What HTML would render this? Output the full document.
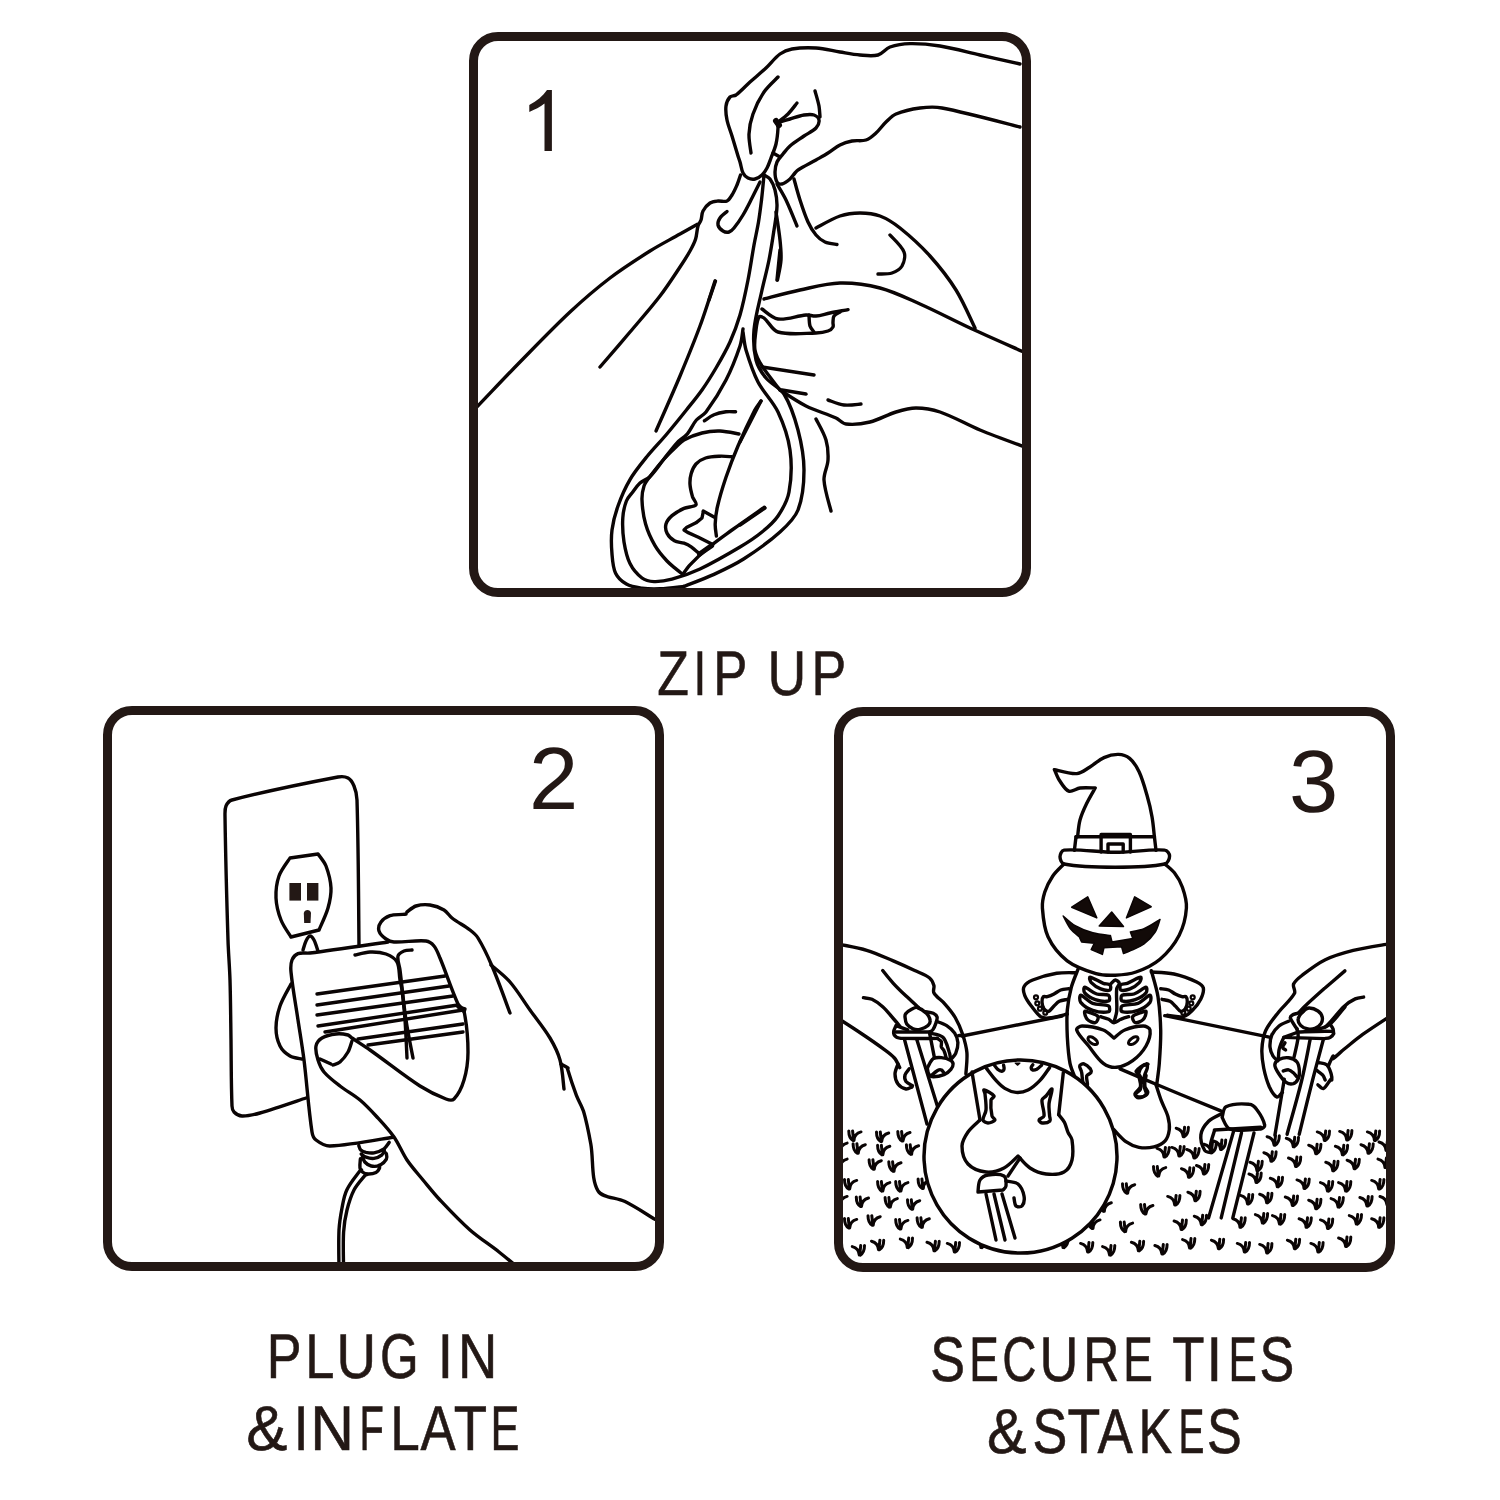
<!DOCTYPE html>
<html><head><meta charset="utf-8">
<style>
html,body{margin:0;padding:0;background:#fff;width:1500px;height:1500px;overflow:hidden}
svg{display:block;position:absolute;left:0;top:0}
text{font-family:"Liberation Sans",sans-serif;fill:#231815}
text.t{stroke:#231815;stroke-width:0.6}
svg{-webkit-font-smoothing:antialiased;text-rendering:geometricPrecision}
.b{fill:none;stroke:#231815;stroke-width:9}
g.l path{fill:none;stroke:#0a0404;stroke-linecap:round;stroke-linejoin:round}
</style></head>
<body>
<svg width="1500" height="1500" viewBox="0 0 1500 1500">
<defs>
<clipPath id="c1"><rect x="473.5" y="36.5" width="553" height="556" rx="24.5"/></clipPath>
<clipPath id="c2"><rect x="107.5" y="710.5" width="552" height="556" rx="24.5"/></clipPath>
<clipPath id="c3"><rect x="838.5" y="711.5" width="552" height="556" rx="24.5"/></clipPath>
</defs>
<g class="l">
<g clip-path="url(#c1)"><path d="M1020.0,64.0 C1013.3,62.5 993.3,58.0 980.0,55.0 C966.7,52.0 953.5,48.2 940.0,46.0 C930.1,44.4 920.0,43.4 910.0,43.6 C903.3,43.7 896.2,44.8 890.0,47.0 C885.6,48.6 882.4,53.8 878.0,55.0 C872.4,56.5 866.0,55.5 860.0,55.0 C853.3,54.5 846.7,53.1 840.0,52.0 C832.0,50.7 824.1,48.5 816.0,48.0 C808.1,47.5 799.8,47.7 792.0,49.0 C787.8,49.7 783.4,51.5 780.0,54.0 C774.8,57.8 770.8,63.5 766.0,68.0 C760.8,72.8 755.3,77.3 750.0,82.0 C745.3,86.3 741.0,91.2 736.0,95.0 C734.3,96.2 731.3,95.6 730.0,97.0 C728.0,99.2 726.4,102.8 726.0,106.0 C725.4,110.5 726.1,115.4 727.0,120.0 C728.1,125.4 730.4,130.7 732.0,136.0 C734.0,142.7 736.0,149.3 738.0,156.0 C738.6,158.0 739.4,160.0 740.0,162.0 C741.1,165.6 741.4,169.7 743.0,173.0 C744.0,175.0 746.0,177.0 748.0,178.0 C750.0,179.0 752.8,179.5 755.0,179.0 C757.5,178.5 760.1,176.8 762.0,175.0 C764.1,173.1 765.7,170.5 767.0,168.0 C768.7,164.8 769.7,161.4 771.0,158.0 C772.7,153.4 774.9,148.8 776.0,144.0 C777.2,138.8 777.7,133.3 778.0,128.0 C778.1,126.3 777.2,123.8 777.0,123.0" stroke-width="3.4"/>
<path d="M1020.0,127.0 C1007.0,123.8 968.2,113.0 942.0,108.0 C934.8,106.6 927.2,107.1 920.0,108.0 C911.9,109.1 903.5,110.9 896.0,114.0 C892.1,115.6 889.1,119.1 886.0,122.0 C882.4,125.4 879.7,129.7 876.0,133.0 C873.0,135.7 869.7,138.8 866.0,140.0 C861.7,141.4 856.6,140.1 852.0,141.0 C847.9,141.8 843.7,143.1 840.0,145.0 C835.7,147.1 832.1,150.5 828.0,153.0 C824.1,155.5 820.0,157.7 816.0,160.0 C810.0,163.4 803.8,166.4 798.0,170.0 C796.8,170.7 795.9,171.9 795.0,173.0 C793.3,174.9 792.0,177.3 790.0,179.0 C787.6,181.0 784.8,183.4 782.0,184.0 C780.4,184.4 777.8,183.4 777.0,182.0 C775.5,179.4 775.0,175.3 775.0,172.0 C775.0,168.7 775.7,165.0 777.0,162.0 C778.3,159.0 780.9,156.6 783.0,154.0 C785.2,151.3 787.3,148.3 790.0,146.0 C794.3,142.3 799.3,139.3 804.0,136.0 C808.0,133.3 812.9,131.3 816.0,128.0 C817.9,126.0 819.4,122.4 819.0,120.0 C818.7,118.0 816.1,115.7 814.0,115.0 C811.1,114.0 807.3,114.5 804.0,115.0 C799.3,115.8 794.7,117.6 790.0,119.0 C785.7,120.3 779.2,122.3 777.0,123.0" stroke-width="3.4"/>
<path d="M815.0,91.0 C815.7,93.5 818.0,100.9 819.0,106.0 C819.7,109.6 819.8,115.2 820.0,117.0" stroke-width="3.4"/>
<path d="M797.0,103.0 C795.5,104.8 791.3,110.7 788.0,114.0 C784.7,117.3 778.8,121.5 777.0,123.0" stroke-width="3.4"/>
<path d="M778.0,77.0 C775.7,79.5 767.8,86.4 764.0,92.0 C759.5,98.7 755.7,106.3 753.0,114.0 C750.7,120.3 749.3,127.3 749.0,134.0 C748.7,140.3 750.7,149.8 751.0,153.0" stroke-width="3.4"/>
<path d="M773.0,153.0 L780.0,157.0" stroke-width="3.4"/>
<path d="M776.0,121.0 L779.0,125.0" stroke-width="6.0"/>
<path d="M740.5,175.0 C739.9,176.7 738.4,181.8 737.0,185.0 C735.5,188.4 734.0,191.9 732.0,195.0 C730.6,197.2 729.2,200.1 727.0,201.0 C724.5,202.1 721.0,200.7 718.0,201.0 C715.3,201.3 712.2,201.5 710.0,203.0 C707.2,204.9 704.6,208.0 703.0,211.0 C701.6,213.6 702.0,217.1 701.0,220.0 C700.3,222.1 698.6,223.9 698.0,226.0 C696.8,230.2 696.9,234.8 695.6,239.0 C694.3,243.2 692.1,247.2 690.0,251.0 C686.9,256.5 683.5,261.8 680.0,267.0 C673.5,276.8 667.2,286.7 660.0,296.0 C650.5,308.4 640.1,320.1 630.0,332.0 C620.1,343.7 605.0,361.2 600.0,367.0" stroke-width="3.4"/>
<path d="M727.0,211.5 C725.8,212.6 721.7,215.4 720.0,218.0 C718.7,219.9 717.5,222.9 718.0,225.0 C718.5,227.2 720.9,229.7 723.0,231.0 C724.6,232.0 727.2,232.5 729.0,232.0 C730.9,231.5 732.7,229.6 734.0,228.0 C737.3,224.0 740.3,219.5 743.0,215.0 C746.3,209.5 749.1,203.7 752.0,198.0 C754.7,192.7 758.7,184.7 760.0,182.0" stroke-width="3.4"/>
<path d="M470.0,414.0 C470.7,413.3 472.7,411.4 474.0,410.0 C489.4,394.0 504.5,377.8 520.0,362.0 C536.5,345.2 552.8,328.1 570.0,312.0 C582.8,300.1 596.1,288.6 610.0,278.0 C622.8,268.3 636.4,259.6 650.0,251.0 C659.7,244.9 670.0,239.7 680.0,234.0 C685.7,230.8 694.2,226.0 697.0,224.4" stroke-width="3.4"/>
<path d="M715.0,281.0 C712.5,288.5 705.5,311.2 700.0,326.0 C693.8,342.8 686.9,359.4 680.0,376.0 C672.3,394.4 660.0,421.8 656.0,431.0" stroke-width="3.4"/>
<path d="M764.0,175.0 C763.6,179.2 762.5,191.7 761.5,200.0 C760.6,207.3 759.7,214.7 758.5,222.0 C757.2,229.7 755.4,237.3 754.0,245.0 C751.9,256.6 750.3,268.4 748.0,280.0 C745.7,291.7 743.3,303.5 740.0,315.0 C737.3,324.2 733.9,333.3 730.0,342.0 C725.9,350.9 721.0,359.5 716.0,368.0 C711.6,375.5 707.0,382.9 702.0,390.0 C697.1,396.9 691.7,403.4 686.4,410.0 C679.7,418.4 672.9,426.8 666.0,435.0 C659.7,442.4 652.9,449.3 646.8,456.8 C640.9,464.1 634.7,471.5 630.0,479.6 C625.1,487.9 621.2,496.9 618.0,506.0 C615.2,513.7 613.0,521.9 612.0,530.0 C611.0,537.9 611.3,546.1 612.0,554.0 C612.5,560.5 612.9,567.6 615.6,573.2 C617.7,577.6 622.1,581.6 626.4,584.0 C630.9,586.6 636.7,587.4 642.0,588.2 C647.9,589.0 654.0,589.1 660.0,588.8 C668.0,588.5 680.0,586.8 684.0,586.4" stroke-width="3.4"/>
<path d="M764.0,175.0 C765.0,175.7 768.6,177.1 770.0,179.0 C772.3,182.1 774.0,186.1 775.0,190.0 C776.3,195.1 777.1,200.7 777.0,206.0 C776.8,214.0 775.2,222.0 774.0,230.0 C772.5,240.0 771.0,250.1 769.0,260.0 C767.0,270.1 764.2,280.0 762.0,290.0 C759.2,303.3 755.2,316.6 754.0,330.0 C753.2,339.9 753.6,350.5 756.0,360.0 C757.6,366.5 761.7,372.8 766.0,378.0 C771.0,384.1 779.9,387.3 784.0,394.0 C790.6,404.7 794.7,417.6 798.0,430.0 C801.4,443.0 804.0,456.7 804.0,470.0 C804.0,483.3 802.7,497.9 798.0,510.0 C794.7,518.5 787.0,525.7 780.0,532.0 C769.0,542.0 756.5,550.7 744.0,558.8 C734.5,564.9 724.2,569.7 714.0,574.4 C704.2,578.9 689.0,584.4 684.0,586.4" stroke-width="3.4"/>
<path d="M743.0,329.0 C742.5,331.8 741.8,340.6 740.0,346.0 C736.1,357.6 731.6,369.1 726.0,380.0 C720.3,391.1 713.4,402.0 706.0,412.0 C703.5,415.3 699.1,416.9 696.4,420.0 C692.9,424.1 690.9,429.7 687.4,433.8 C684.5,437.3 680.1,439.5 677.0,442.8 C672.3,447.9 668.3,453.6 664.0,459.0 C659.2,465.0 655.0,471.6 649.6,477.0 C647.0,479.6 642.8,480.5 640.0,483.0 C637.2,485.5 635.1,488.9 632.8,492.0 C630.6,494.9 627.7,497.6 626.4,501.0 C624.4,506.3 623.1,512.3 622.8,518.0 C622.3,525.9 622.8,534.1 624.0,542.0 C625.2,549.3 626.7,557.1 630.0,563.6 C632.7,569.1 637.2,574.4 642.0,578.0 C645.2,580.4 649.9,581.4 654.0,581.6 C659.9,581.8 666.2,580.8 672.0,579.2 C681.5,576.6 691.0,573.2 700.0,569.0 C713.7,562.5 726.9,554.8 740.0,547.0 C747.6,542.5 755.2,537.6 762.0,532.0 C767.8,527.3 773.8,522.2 778.0,516.0 C782.8,508.8 787.5,500.5 789.0,492.0 C791.5,478.5 791.9,463.7 790.0,450.0 C788.2,437.0 783.6,423.9 778.0,412.0 C772.9,401.2 763.5,392.6 758.0,382.0 C752.8,371.9 749.3,360.9 746.0,350.0 C744.3,344.2 743.5,335.0 743.0,332.0" stroke-width="3.4"/>
<path d="M739.0,434.0 C735.8,433.5 726.4,431.2 720.0,431.0 C714.0,430.8 707.8,431.5 702.0,433.0 C695.8,434.5 689.6,437.0 684.0,440.0 C680.9,441.7 678.6,444.6 676.0,447.0 C671.9,450.9 667.7,454.8 664.0,459.0 C658.9,464.8 654.2,470.8 649.6,477.0 C647.5,479.8 645.1,482.7 644.0,486.0 C642.6,490.4 641.8,495.3 642.0,500.0 C642.3,508.0 643.4,516.3 645.6,524.0 C647.7,531.5 651.1,538.9 655.0,545.6 C658.2,551.2 662.6,556.2 667.0,561.0 C669.9,564.2 673.5,566.8 676.8,569.6 C678.8,571.3 681.8,573.6 682.8,574.4" stroke-width="3.4"/>
<path d="M704.4,420.8 C706.0,419.8 710.6,416.2 714.0,414.8 C717.8,413.2 721.9,412.4 726.0,411.8 C729.1,411.4 734.0,411.8 735.6,411.8" stroke-width="3.4"/>
<path d="M732.0,456.8 C730.0,456.7 724.0,456.0 720.0,456.2 C715.2,456.4 710.1,456.5 705.6,458.0 C702.1,459.1 698.5,461.3 696.0,464.0 C693.7,466.5 692.2,470.2 691.2,473.6 C690.2,477.0 689.8,480.8 690.0,484.4 C690.2,488.4 691.3,492.5 692.4,496.4 C693.3,499.3 697.2,503.1 696.0,504.8 C694.4,507.1 687.8,506.7 684.0,508.4 C679.8,510.3 675.5,512.6 672.0,515.6 C669.5,517.8 666.8,520.9 666.0,524.0 C665.2,526.9 665.8,530.9 667.2,533.6 C668.6,536.5 671.6,539.2 674.4,540.8 C677.2,542.4 680.9,542.1 684.0,543.2 C686.5,544.1 689.0,545.3 691.2,546.8 C694.2,548.9 698.2,552.8 699.6,554.0" stroke-width="3.4"/>
<path d="M703.2,511.0 L714.0,517.0" stroke-width="3.4"/>
<path d="M703.2,512.0 L702.0,518.0 L696.0,522.8 L686.4,527.6 L684.0,530.0 L687.6,532.4 L698.4,537.2 L712.8,544.4" stroke-width="3.4"/>
<path d="M761.0,401.0 C760.0,402.5 756.5,406.8 754.8,410.0 C748.8,421.8 743.2,433.8 738.0,446.0 C733.6,456.2 729.6,466.7 726.0,477.2 C722.8,486.7 719.8,496.3 717.6,506.0 C716.2,511.9 715.4,518.0 715.2,524.0 C715.0,528.0 716.2,534.0 716.4,536.0" stroke-width="3.4"/>
<path d="M764.4,507.2 C759.0,511.0 742.7,522.3 732.0,530.0 C723.9,535.9 715.7,541.6 708.0,548.0 C701.7,553.2 695.6,558.9 690.0,564.8 C687.2,567.7 684.0,572.8 682.8,574.4" stroke-width="3.4"/>
<path d="M699.6,554.0 L711.6,545.6" stroke-width="5.0"/>
<path d="M780.0,250.0 L777.0,280.0" stroke-width="3.4"/>
<path d="M761.0,401.0 L740.0,442.0" stroke-width="3.4"/>
<path d="M765.0,508.0 L740.0,525.0" stroke-width="3.4"/>
<path d="M776.0,212.0 C776.7,216.7 779.0,230.6 780.0,240.0 C780.7,246.6 781.4,253.4 781.0,260.0 C780.6,266.7 778.1,276.7 777.5,280.0" stroke-width="3.4"/>
<path d="M777.0,184.0 C778.5,186.7 783.4,194.5 786.0,200.0 C790.0,208.5 795.2,221.7 797.0,226.0" stroke-width="3.4"/>
<path d="M794.0,179.0 C795.0,182.5 797.7,193.1 800.0,200.0 C802.4,207.4 804.8,214.9 808.0,222.0 C810.1,226.6 812.8,231.2 816.0,235.0 C818.4,237.9 821.6,240.5 825.0,242.0 C828.6,243.6 835.0,244.1 837.0,244.5" stroke-width="3.4"/>
<path d="M715.5,281.0 L709.0,300.0" stroke-width="3.4"/>
<path d="M816.0,228.0 C820.0,226.0 831.6,218.9 840.0,216.0 C846.3,213.9 853.3,213.0 860.0,213.0 C866.7,213.0 873.8,213.7 880.0,216.0 C887.1,218.7 894.0,223.2 900.0,228.0 C910.6,236.5 920.9,245.9 930.0,256.0 C939.5,266.6 948.5,278.0 956.0,290.0 C963.5,302.0 971.8,321.7 975.0,328.0" stroke-width="3.4"/>
<path d="M890.0,235.0 C892.3,237.8 901.6,245.7 904.0,252.0 C905.6,256.0 904.1,262.2 902.0,266.0 C900.1,269.2 895.7,271.8 892.0,273.0 C887.7,274.4 880.3,273.8 878.0,274.0" stroke-width="3.4"/>
<path d="M764.0,299.0 C770.0,297.5 787.9,292.5 800.0,290.0 C813.2,287.2 826.6,283.3 840.0,283.0 C853.3,282.7 867.1,284.6 880.0,288.0 C893.8,291.6 906.9,298.2 920.0,304.0 C936.9,311.5 953.2,320.2 970.0,328.0 C988.6,336.6 1016.7,348.8 1026.0,353.0" stroke-width="3.4"/>
<path d="M780.0,390.0 C784.3,392.7 796.9,401.5 806.0,406.0 C815.6,410.8 826.2,413.6 836.0,418.0 C839.5,419.6 842.3,423.6 846.0,424.0 C853.6,424.9 862.3,423.9 870.0,422.0 C878.9,419.9 887.1,414.7 896.0,412.0 C902.5,410.0 909.3,408.0 916.0,408.0 C924.0,408.0 932.4,409.4 940.0,412.0 C953.7,416.7 966.5,424.4 980.0,430.0 C996.5,436.8 1021.7,445.8 1030.0,449.0" stroke-width="3.4"/>
<path d="M762.0,309.0 C764.7,310.7 772.1,318.2 778.0,319.0 C786.8,320.2 796.7,315.7 806.0,315.0 C809.3,314.7 812.7,316.3 816.0,316.0 C820.7,315.6 825.3,313.9 830.0,313.0 C836.0,311.8 845.0,310.2 848.0,309.6" stroke-width="3.4"/>
<path d="M840.0,312.0 C839.0,312.7 835.3,314.2 834.0,316.0 C832.9,317.5 833.2,320.0 833.0,322.0 C832.8,323.7 833.7,325.7 833.0,327.0 C832.1,328.7 830.0,330.3 828.0,331.0 C824.3,332.3 820.0,332.9 816.0,333.0 C803.4,333.3 789.4,335.3 778.0,332.0 C772.1,330.3 769.0,322.0 764.0,318.0 C762.7,317.0 759.7,315.9 759.0,317.0 C757.1,319.9 756.5,325.6 756.0,330.0 C755.2,336.6 753.9,343.6 755.0,350.0 C755.9,355.6 758.9,361.1 762.0,366.0 C767.3,374.4 777.0,386.0 780.0,390.0" stroke-width="3.4"/>
<path d="M809.0,315.0 C809.2,316.8 809.0,322.6 810.0,326.0 C810.7,328.2 813.3,331.0 814.0,332.0" stroke-width="3.4"/>
<path d="M762.0,367.0 L814.0,375.0" stroke-width="3.4"/>
<path d="M782.0,390.0 L806.0,394.0" stroke-width="3.4"/>
<path d="M828.0,400.0 C830.7,400.8 838.5,404.3 844.0,405.0 C849.5,405.7 858.2,404.2 861.0,404.0" stroke-width="3.4"/>
<path d="M816.0,419.0 C817.7,422.5 823.9,432.7 826.0,440.0 C827.9,446.3 828.3,453.4 828.0,460.0 C827.7,466.7 823.6,473.4 824.0,480.0 C824.6,490.4 829.8,505.8 831.0,511.0" stroke-width="3.4"/></g>
<g clip-path="url(#c2)"><path d="M306.0,1098.0 C298.3,1100.5 275.5,1108.6 260.0,1113.0 C254.2,1114.6 247.8,1116.2 242.0,1116.0 C239.1,1115.9 236.0,1114.0 234.0,1112.0 C232.6,1110.6 232.1,1108.1 232.0,1106.0 C231.1,1084.1 231.3,1062.0 231.0,1040.0 C230.7,1020.0 230.6,1000.0 230.0,980.0 C229.6,966.7 228.4,953.3 228.0,940.0 C226.7,898.7 225.6,857.3 225.0,816.0 C225.0,812.7 224.7,808.9 226.0,806.0 C227.1,803.6 229.3,800.7 232.0,800.0 C266.6,791.0 302.6,783.7 338.0,777.0 C341.3,776.4 345.3,776.5 348.0,778.0 C350.7,779.5 352.8,783.0 354.0,786.0 C355.8,790.3 356.9,795.2 357.0,800.0 C358.5,848.6 358.7,921.7 359.0,946.0" stroke-width="3.4"/>
<path d="M290.0,858.0 L318.0,854.0 C319.3,856.0 324.3,861.6 326.0,866.0 C328.6,872.9 330.6,880.6 331.0,888.0 C331.3,894.6 329.8,901.6 328.0,908.0 C325.8,915.6 320.5,926.3 319.0,930.0 L291.0,937.0 C289.3,934.2 283.3,926.1 281.0,920.0 C278.3,913.1 276.3,905.4 276.0,898.0 C275.7,890.7 276.6,882.8 279.0,876.0 C281.3,869.5 288.2,861.0 290.0,858.0Z" stroke-width="3.4"/>
<path d="M289.4,883 h11.6 v17.6 h-11.6 Z" style="fill:#231815" stroke-width="0.0"/>
<path d="M307,883 h11.4 v17.6 h-11.4 Z" style="fill:#231815" stroke-width="0.0"/>
<path d="M303.8,913 C304.5,909 310.5,909 311,913 L310.5,923 L304.2,923 Z" style="fill:#231815" stroke-width="0.0"/>
<path d="M303.0,950.0 C303.5,948.5 304.6,943.8 306.0,941.0 C306.9,939.1 308.6,936.2 310.0,936.0 C311.3,935.8 313.1,938.4 314.0,940.0 C315.8,943.4 317.3,949.2 318.0,951.0" stroke-width="3.4"/>
<path d="M406.0,914.0 C405.5,914.1 404.0,914.3 403.0,914.4 C398.7,914.8 394.0,914.2 390.0,915.6 C386.6,916.8 383.0,919.2 381.0,922.0 C379.3,924.3 378.2,928.4 379.0,931.0 C379.9,934.0 383.2,937.0 386.0,939.0 C388.2,940.6 391.2,941.9 394.0,942.0 C404.5,942.5 415.7,940.0 426.0,941.0 C429.0,941.3 432.1,943.7 434.0,946.0 C436.7,949.3 438.3,953.9 440.0,958.0 C446.3,973.2 451.3,989.1 458.0,1004.0 C459.3,1006.8 463.4,1008.1 464.0,1011.0 C466.7,1024.1 468.0,1038.4 468.0,1052.0 C468.0,1061.4 466.7,1071.1 464.0,1080.0 C462.0,1086.8 458.4,1094.4 454.0,1099.0 C452.4,1100.7 448.4,1099.9 446.0,1099.0 C437.1,1095.6 428.1,1091.2 420.0,1086.0 C402.8,1074.9 386.8,1061.8 370.0,1050.0 C364.1,1045.8 358.0,1042.1 352.0,1038.0 C350.6,1037.1 349.6,1035.4 348.0,1035.0 C344.2,1034.1 339.9,1033.5 336.0,1034.0 C331.3,1034.5 326.0,1035.6 322.0,1038.0 C319.3,1039.6 316.6,1043.0 316.0,1046.0 C315.2,1050.3 316.6,1055.6 318.0,1060.0 C319.3,1064.2 321.2,1068.6 324.0,1072.0 C328.5,1077.3 334.4,1081.7 340.0,1086.0 C346.4,1091.0 353.8,1094.8 360.0,1100.0 C366.1,1105.1 371.6,1111.1 377.0,1117.0 C382.9,1123.4 389.0,1129.9 394.0,1137.0 C399.0,1144.2 402.1,1152.7 407.0,1160.0 C411.8,1167.1 417.6,1173.4 423.0,1180.0 C428.6,1186.7 434.0,1193.6 440.0,1200.0 C449.7,1210.3 459.4,1220.7 470.0,1230.0 C479.1,1238.0 489.5,1244.5 499.0,1252.0 C506.3,1257.8 513.5,1263.8 520.6,1270.0 C522.5,1271.6 525.1,1274.5 526.0,1275.4" stroke-width="3.4"/>
<path d="M388.0,942.0 C375.0,943.8 336.0,949.6 310.0,953.0 C306.0,953.5 301.5,952.3 298.0,953.6 C295.5,954.6 293.0,957.4 292.0,960.0 C290.7,963.5 290.6,968.0 291.0,972.0 C292.6,988.0 295.6,1004.0 298.0,1020.0 C300.0,1033.3 302.3,1046.6 304.0,1060.0 C307.0,1084.0 308.4,1108.3 312.0,1132.0 C312.4,1134.9 313.8,1138.3 316.0,1140.0 C319.8,1142.9 325.0,1146.2 330.0,1146.0 C350.7,1145.2 382.5,1138.7 393.0,1137.2" stroke-width="3.4"/>
<path d="M291.0,984.0 C289.2,987.7 282.6,998.3 280.0,1006.0 C277.6,1013.0 276.0,1020.7 276.0,1028.0 C276.0,1034.0 277.4,1040.7 280.0,1046.0 C282.0,1050.1 286.1,1053.7 290.0,1056.0 C293.4,1058.0 300.0,1058.5 302.0,1059.0" stroke-width="3.4"/>
<path d="M317.0,994.0 L445.0,976.0" stroke-width="3.4"/>
<path d="M317.0,1005.0 L449.0,986.0" stroke-width="3.4"/>
<path d="M317.0,1015.0 L453.0,996.0" stroke-width="3.4"/>
<path d="M318.0,1026.0 L458.0,1005.0" stroke-width="3.4"/>
<path d="M325.0,1032.0 L463.0,1010.0" stroke-width="3.4"/>
<path d="M358.0,1039.0 L463.0,1024.0" stroke-width="3.4"/>
<path d="M368.0,1045.0 L463.0,1032.0" stroke-width="3.4"/>
<path d="M458.0,1007.0 L465.0,1009.0 L464.0,1012.0" stroke-width="3.4"/>
<path d="M355.0,955.0 C357.5,954.5 365.0,952.2 370.0,952.0 C375.3,951.8 381.1,952.2 386.0,954.0 C390.1,955.5 395.0,958.3 397.0,962.0 C399.7,967.0 398.9,974.0 400.0,980.0 C400.6,983.3 401.6,986.6 402.0,990.0 C403.2,1000.0 404.3,1010.0 405.0,1020.0 C405.9,1032.6 406.7,1051.7 407.0,1058.0" stroke-width="3.4"/>
<path d="M412.0,950.0 C410.7,950.2 406.4,950.0 404.0,951.0 C401.7,952.0 398.5,953.7 398.0,956.0 C397.1,960.1 399.4,965.3 400.0,970.0 C402.1,986.7 403.5,1003.4 406.0,1020.0 C407.9,1032.7 411.8,1051.7 413.0,1058.0" stroke-width="3.4"/>
<path d="M407.0,912.0 C408.5,911.0 412.7,907.0 416.0,906.0 C420.3,904.7 425.5,904.4 430.0,905.0 C434.8,905.7 439.8,907.5 444.0,910.0 C447.2,911.9 449.0,915.7 452.0,918.0 C457.7,922.4 464.3,925.6 470.0,930.0 C473.0,932.3 476.1,934.8 478.0,938.0 C483.4,946.8 487.9,956.4 492.0,966.0 C498.6,981.4 507.0,1005.2 510.0,1013.0" stroke-width="3.4"/>
<path d="M491.0,965.0 C494.2,967.8 504.5,975.6 510.0,982.0 C517.5,990.6 523.3,1000.7 530.0,1010.0 C536.7,1019.3 544.1,1028.2 550.0,1038.0 C554.1,1044.9 557.9,1052.3 560.0,1060.0 C562.6,1069.3 563.3,1084.2 564.0,1089.0" stroke-width="3.4"/>
<path d="M561.0,1064.0 C562.2,1064.7 566.0,1066.7 568.0,1068.0 C568.2,1068.1 567.3,1068.2 567.4,1068.4 C570.1,1077.3 573.1,1086.5 576.4,1095.4 C578.5,1100.9 581.9,1106.0 583.6,1111.6 C586.7,1122.1 588.8,1133.1 590.8,1144.0 C593.6,1159.5 590.9,1178.9 598.0,1190.8 C602.3,1198.1 616.3,1197.3 625.0,1201.6 C635.5,1206.9 645.4,1213.5 655.6,1219.6 C660.4,1222.5 667.6,1227.1 670.0,1228.6" stroke-width="3.4"/>
<path d="M352.0,1041.0 C351.3,1042.8 349.9,1048.7 348.0,1052.0 C345.9,1055.7 343.1,1059.3 340.0,1062.0 C338.1,1063.6 334.2,1064.5 333.0,1065.0" stroke-width="3.4"/>
<path d="M331.0,1064.0 L320.0,1059.0" stroke-width="3.4"/>
<path d="M358.8,1145.6 C359.1,1146.3 359.7,1149.0 360.8,1150.0 C362.1,1151.2 364.2,1152.0 366.0,1152.4 C368.6,1152.9 371.4,1153.3 374.0,1152.8 C377.4,1152.1 381.1,1150.8 384.0,1148.8 C386.2,1147.3 388.3,1143.5 389.2,1142.4" stroke-width="3.4"/>
<path d="M361.2,1154.0 C362.0,1154.5 364.2,1156.6 366.0,1157.2 C368.5,1158.1 371.4,1158.8 374.0,1158.4 C376.8,1158.0 379.8,1156.5 382.0,1154.8 C383.3,1153.7 384.0,1150.8 384.4,1150.0" stroke-width="3.4"/>
<path d="M362.4,1156.0 C362.8,1157.0 363.4,1160.5 364.8,1162.0 C366.4,1163.8 368.9,1165.5 371.2,1166.0 C373.9,1166.6 377.5,1166.3 380.0,1165.2 C382.5,1164.1 385.1,1161.5 386.4,1159.2 C387.2,1157.8 386.8,1155.6 386.4,1154.0 C386.2,1153.3 385.1,1152.7 384.8,1152.4" stroke-width="3.4"/>
<path d="M360.4,1158.8 C360.3,1160.3 359.6,1165.1 360.0,1168.0 C360.2,1169.5 361.2,1171.1 362.4,1172.0 C363.9,1173.1 366.1,1173.9 368.0,1174.0 C370.6,1174.1 373.7,1173.6 376.0,1172.4 C377.6,1171.6 378.9,1169.6 379.6,1168.0 C380.0,1167.2 379.3,1165.7 379.2,1165.2" stroke-width="3.4"/>
<path d="M361.6,1170.0 C361.3,1170.1 360.4,1170.3 360.0,1170.8 C355.4,1177.0 350.1,1183.1 346.8,1190.0 C344.1,1195.5 343.2,1201.9 342.0,1208.0 C340.6,1215.3 339.4,1222.6 339.0,1230.0 C338.4,1243.3 339.0,1263.3 339.0,1270.0" stroke-width="3.4"/>
<path d="M367.2,1174.4 C366.9,1174.5 365.7,1174.7 365.2,1175.2 C361.3,1179.9 356.8,1184.6 354.0,1190.0 C350.8,1196.2 348.7,1203.2 347.0,1210.0 C345.2,1217.2 344.0,1224.6 343.6,1232.0 C342.9,1244.6 343.6,1263.7 343.6,1270.0" stroke-width="3.4"/></g>
<g clip-path="url(#c3)"><path d="M852.3,1246.6 Q858.8,1248.1 859.3,1255.1 M860.7,1245.6 L859.7,1255.1 M864.5,1245.6 Q864.5,1252.6 860.3,1255.1 M871.5,1241.2 Q878.0,1242.7 878.5,1249.7 M879.9,1240.2 L878.9,1249.7 M883.7,1240.2 Q883.7,1247.2 879.5,1249.7 M900.3,1239.1 Q906.8,1240.6 907.3,1247.6 M908.7,1238.1 L907.7,1247.6 M912.5,1238.1 Q912.5,1245.1 908.3,1247.6 M927.0,1242.3 Q933.5,1243.8 934.0,1250.8 M935.4,1241.3 L934.4,1250.8 M939.2,1241.3 Q939.2,1248.3 935.0,1250.8 M947.3,1243.4 Q953.8,1244.9 954.3,1251.9 M955.7,1242.4 L954.7,1251.9 M959.5,1242.4 Q959.5,1249.4 955.3,1251.9 M973.9,1239.1 Q980.4,1240.6 980.9,1247.6 M982.3,1238.1 L981.3,1247.6 M986.1,1238.1 Q986.1,1245.1 981.9,1247.6 M1056.0,1239.1 Q1062.5,1240.6 1063.0,1247.6 M1064.4,1238.1 L1063.4,1247.6 M1068.2,1238.1 Q1068.2,1245.1 1064.0,1247.6 M1080.6,1243.4 Q1087.1,1244.9 1087.6,1251.9 M1089.0,1242.4 L1088.0,1251.9 M1092.8,1242.4 Q1092.8,1249.4 1088.6,1251.9 M1176.2,1128.2 Q1182.7,1129.7 1183.2,1136.7 M1184.6,1127.2 L1183.6,1136.7 M1188.4,1127.2 Q1188.4,1134.2 1184.2,1136.7 M1157.0,1148.4 Q1163.5,1149.9 1164.0,1156.9 M1165.4,1147.4 L1164.4,1156.9 M1169.2,1147.4 Q1169.2,1154.4 1165.0,1156.9 M1171.9,1147.4 Q1178.4,1148.9 1178.9,1155.9 M1180.3,1146.4 L1179.3,1155.9 M1184.1,1146.4 Q1184.1,1153.4 1179.9,1155.9 M1186.9,1149.5 Q1193.4,1151.0 1193.9,1158.0 M1195.3,1148.5 L1194.3,1158.0 M1199.1,1148.5 Q1199.1,1155.5 1194.9,1158.0 M1204.0,1144.2 Q1210.5,1145.7 1211.0,1152.7 M1212.4,1143.2 L1211.4,1152.7 M1216.2,1143.2 Q1216.2,1150.2 1212.0,1152.7 M1213.5,1141.0 Q1220.0,1142.5 1220.5,1149.5 M1221.9,1140.0 L1220.9,1149.5 M1225.7,1140.0 Q1225.7,1147.0 1221.5,1149.5 M1181.5,1168.7 Q1188.0,1170.2 1188.5,1177.2 M1189.9,1167.7 L1188.9,1177.2 M1193.7,1167.7 Q1193.7,1174.7 1189.5,1177.2 M1196.5,1165.5 Q1203.0,1167.0 1203.5,1174.0 M1204.9,1164.5 L1203.9,1174.0 M1208.7,1164.5 Q1208.7,1171.5 1204.5,1174.0 M1187.9,1192.2 Q1194.4,1193.7 1194.9,1200.7 M1196.3,1191.2 L1195.3,1200.7 M1200.1,1191.2 Q1200.1,1198.2 1195.9,1200.7 M1167.7,1196.4 Q1174.2,1197.9 1174.7,1204.9 M1176.1,1195.4 L1175.1,1204.9 M1179.9,1195.4 Q1179.9,1202.4 1175.7,1204.9 M1174.1,1221.0 Q1180.6,1222.5 1181.1,1229.5 M1182.5,1220.0 L1181.5,1229.5 M1186.3,1220.0 Q1186.3,1227.0 1182.1,1229.5 M1194.3,1216.2 Q1200.8,1217.7 1201.3,1224.7 M1202.7,1215.2 L1201.7,1224.7 M1206.5,1215.2 Q1206.5,1222.2 1202.3,1224.7 M1102.6,1246.6 Q1109.1,1248.1 1109.6,1255.1 M1111.0,1245.6 L1110.0,1255.1 M1114.8,1245.6 Q1114.8,1252.6 1110.6,1255.1 M1131.4,1242.3 Q1137.9,1243.8 1138.4,1250.8 M1139.8,1241.3 L1138.8,1250.8 M1143.6,1241.3 Q1143.6,1248.3 1139.4,1250.8 M1154.9,1245.5 Q1161.4,1247.0 1161.9,1254.0 M1163.3,1244.5 L1162.3,1254.0 M1167.1,1244.5 Q1167.1,1251.5 1162.9,1254.0 M1182.6,1239.6 Q1189.1,1241.1 1189.6,1248.1 M1191.0,1238.6 L1190.0,1248.1 M1194.8,1238.6 Q1194.8,1245.6 1190.6,1248.1 M1211.4,1240.2 Q1217.9,1241.7 1218.4,1248.7 M1219.8,1239.2 L1218.8,1248.7 M1223.6,1239.2 Q1223.6,1246.2 1219.4,1248.7 M1267.1,1136.7 Q1273.6,1138.2 1274.1,1145.2 M1275.5,1135.7 L1274.5,1145.2 M1279.3,1135.7 Q1279.3,1142.7 1275.1,1145.2 M1286.3,1138.3 Q1292.8,1139.8 1293.3,1146.8 M1294.7,1137.3 L1293.7,1146.8 M1298.5,1137.3 Q1298.5,1144.3 1294.3,1146.8 M1317.3,1131.9 Q1323.8,1133.4 1324.3,1140.4 M1325.7,1130.9 L1324.7,1140.4 M1329.5,1130.9 Q1329.5,1137.9 1325.3,1140.4 M1339.7,1131.4 Q1346.2,1132.9 1346.7,1139.9 M1348.1,1130.4 L1347.1,1139.9 M1351.9,1130.4 Q1351.9,1137.4 1347.7,1139.9 M1367.4,1131.9 Q1373.9,1133.4 1374.4,1140.4 M1375.8,1130.9 L1374.8,1140.4 M1379.6,1130.9 Q1379.6,1137.9 1375.4,1140.4 M1379.0,1142.0 Q1385.5,1143.5 1386.0,1150.5 M1387.4,1141.0 L1386.4,1150.5 M1391.2,1141.0 Q1391.2,1148.0 1387.0,1150.5 M1263.9,1152.7 Q1270.4,1154.2 1270.9,1161.2 M1272.3,1151.7 L1271.3,1161.2 M1276.1,1151.7 Q1276.1,1158.7 1271.9,1161.2 M1288.5,1158.0 Q1295.0,1159.5 1295.5,1166.5 M1296.9,1157.0 L1295.9,1166.5 M1300.7,1157.0 Q1300.7,1164.0 1296.5,1166.5 M1308.7,1145.2 Q1315.2,1146.7 1315.7,1153.7 M1317.1,1144.2 L1316.1,1153.7 M1320.9,1144.2 Q1320.9,1151.2 1316.7,1153.7 M1335.4,1146.3 Q1341.9,1147.8 1342.4,1154.8 M1343.8,1145.3 L1342.8,1154.8 M1347.6,1145.3 Q1347.6,1152.3 1343.4,1154.8 M1361.0,1144.7 Q1367.5,1146.2 1368.0,1153.2 M1369.4,1143.7 L1368.4,1153.2 M1373.2,1143.7 Q1373.2,1150.7 1369.0,1153.2 M1378.0,1159.1 Q1384.5,1160.6 1385.0,1167.6 M1386.4,1158.1 L1385.4,1167.6 M1390.2,1158.1 Q1390.2,1165.1 1386.0,1167.6 M1250.0,1162.3 Q1256.5,1163.8 1257.0,1170.8 M1258.4,1161.3 L1257.4,1170.8 M1262.2,1161.3 Q1262.2,1168.3 1258.0,1170.8 M1325.8,1162.3 Q1332.3,1163.8 1332.8,1170.8 M1334.2,1161.3 L1333.2,1170.8 M1338.0,1161.3 Q1338.0,1168.3 1333.8,1170.8 M1347.1,1160.2 Q1353.6,1161.7 1354.1,1168.7 M1355.5,1159.2 L1354.5,1168.7 M1359.3,1159.2 Q1359.3,1166.2 1355.1,1168.7 M1249.0,1174.0 Q1255.5,1175.5 1256.0,1182.5 M1257.4,1173.0 L1256.4,1182.5 M1261.2,1173.0 Q1261.2,1180.0 1257.0,1182.5 M1270.3,1178.3 Q1276.8,1179.8 1277.3,1186.8 M1278.7,1177.3 L1277.7,1186.8 M1282.5,1177.3 Q1282.5,1184.3 1278.3,1186.8 M1297.0,1179.9 Q1303.5,1181.4 1304.0,1188.4 M1305.4,1178.9 L1304.4,1188.4 M1309.2,1178.9 Q1309.2,1185.9 1305.0,1188.4 M1320.5,1182.6 Q1327.0,1184.1 1327.5,1191.1 M1328.9,1181.6 L1327.9,1191.1 M1332.7,1181.6 Q1332.7,1188.6 1328.5,1191.1 M1338.6,1182.6 Q1345.1,1184.1 1345.6,1191.1 M1347.0,1181.6 L1346.0,1191.1 M1350.8,1181.6 Q1350.8,1188.6 1346.6,1191.1 M1371.7,1180.4 Q1378.2,1181.9 1378.7,1188.9 M1380.1,1179.4 L1379.1,1188.9 M1383.9,1179.4 Q1383.9,1186.4 1379.7,1188.9 M1240.5,1195.4 Q1247.0,1196.9 1247.5,1203.9 M1248.9,1194.4 L1247.9,1203.9 M1252.7,1194.4 Q1252.7,1201.4 1248.5,1203.9 M1259.7,1194.3 Q1266.2,1195.8 1266.7,1202.8 M1268.1,1193.3 L1267.1,1202.8 M1271.9,1193.3 Q1271.9,1200.3 1267.7,1202.8 M1285.3,1197.0 Q1291.8,1198.5 1292.3,1205.5 M1293.7,1196.0 L1292.7,1205.5 M1297.5,1196.0 Q1297.5,1203.0 1293.3,1205.5 M1308.7,1200.2 Q1315.2,1201.7 1315.7,1208.7 M1317.1,1199.2 L1316.1,1208.7 M1320.9,1199.2 Q1320.9,1206.2 1316.7,1208.7 M1331.1,1198.6 Q1337.6,1200.1 1338.1,1207.1 M1339.5,1197.6 L1338.5,1207.1 M1343.3,1197.6 Q1343.3,1204.6 1339.1,1207.1 M1359.9,1197.5 Q1366.4,1199.0 1366.9,1206.0 M1368.3,1196.5 L1367.3,1206.0 M1372.1,1196.5 Q1372.1,1203.5 1367.9,1206.0 M1380.0,1196.5 Q1386.5,1198.0 1387.0,1205.0 M1388.4,1195.5 L1387.4,1205.0 M1392.2,1195.5 Q1392.2,1202.5 1388.0,1205.0 M1233.0,1218.8 Q1239.5,1220.3 1240.0,1227.3 M1241.4,1217.8 L1240.4,1227.3 M1245.2,1217.8 Q1245.2,1224.8 1241.0,1227.3 M1255.4,1214.6 Q1261.9,1216.1 1262.4,1223.1 M1263.8,1213.6 L1262.8,1223.1 M1267.6,1213.6 Q1267.6,1220.6 1263.4,1223.1 M1272.5,1215.6 Q1279.0,1217.1 1279.5,1224.1 M1280.9,1214.6 L1279.9,1224.1 M1284.7,1214.6 Q1284.7,1221.6 1280.5,1224.1 M1299.1,1218.8 Q1305.6,1220.3 1306.1,1227.3 M1307.5,1217.8 L1306.5,1227.3 M1311.3,1217.8 Q1311.3,1224.8 1307.1,1227.3 M1320.5,1219.9 Q1327.0,1221.4 1327.5,1228.4 M1328.9,1218.9 L1327.9,1228.4 M1332.7,1218.9 Q1332.7,1225.9 1328.5,1228.4 M1349.3,1215.6 Q1355.8,1217.1 1356.3,1224.1 M1357.7,1214.6 L1356.7,1224.1 M1361.5,1214.6 Q1361.5,1221.6 1357.3,1224.1 M1371.7,1218.8 Q1378.2,1220.3 1378.7,1227.3 M1380.1,1217.8 L1379.1,1227.3 M1383.9,1217.8 Q1383.9,1224.8 1379.7,1227.3 M1237.3,1243.4 Q1243.8,1244.9 1244.3,1251.9 M1245.7,1242.4 L1244.7,1251.9 M1249.5,1242.4 Q1249.5,1249.4 1245.3,1251.9 M1259.7,1244.4 Q1266.2,1245.9 1266.7,1252.9 M1268.1,1243.4 L1267.1,1252.9 M1271.9,1243.4 Q1271.9,1250.4 1267.7,1252.9 M1287.4,1240.2 Q1293.9,1241.7 1294.4,1248.7 M1295.8,1239.2 L1294.8,1248.7 M1299.6,1239.2 Q1299.6,1246.2 1295.4,1248.7 M1310.9,1243.4 Q1317.4,1244.9 1317.9,1251.9 M1319.3,1242.4 L1318.3,1251.9 M1323.1,1242.4 Q1323.1,1249.4 1318.9,1251.9 M1338.6,1238.0 Q1345.1,1239.5 1345.6,1246.5 M1347.0,1237.0 L1346.0,1246.5 M1350.8,1237.0 Q1350.8,1244.0 1346.6,1246.5 M861.0,1131.9 Q854.5,1133.4 854.0,1140.4 M852.6,1130.9 L853.6,1140.4 M848.8,1130.9 Q848.8,1137.9 853.0,1140.4 M888.7,1133.0 Q882.2,1134.5 881.7,1141.5 M880.3,1132.0 L881.3,1141.5 M876.5,1132.0 Q876.5,1139.0 880.7,1141.5 M910.0,1132.5 Q903.5,1134.0 903.0,1141.0 M901.6,1131.5 L902.6,1141.0 M897.8,1131.5 Q897.8,1138.5 902.0,1141.0 M847.1,1143.1 Q840.6,1144.6 840.1,1151.6 M838.7,1142.1 L839.7,1151.6 M834.9,1142.1 Q834.9,1149.1 839.1,1151.6 M865.3,1144.7 Q858.8,1146.2 858.3,1153.2 M856.9,1143.7 L857.9,1153.2 M853.1,1143.7 Q853.1,1150.7 857.3,1153.2 M889.8,1146.3 Q883.3,1147.8 882.8,1154.8 M881.4,1145.3 L882.4,1154.8 M877.6,1145.3 Q877.6,1152.3 881.8,1154.8 M918.6,1145.8 Q912.1,1147.3 911.6,1154.3 M910.2,1144.8 L911.2,1154.3 M906.4,1144.8 Q906.4,1151.8 910.6,1154.3 M847.1,1159.1 Q840.6,1160.6 840.1,1167.6 M838.7,1158.1 L839.7,1167.6 M834.9,1158.1 Q834.9,1165.1 839.1,1167.6 M881.3,1160.7 Q874.8,1162.2 874.3,1169.2 M872.9,1159.7 L873.9,1169.2 M869.1,1159.7 Q869.1,1166.7 873.3,1169.2 M901.0,1162.8 Q894.5,1164.3 894.0,1171.3 M892.6,1161.8 L893.6,1171.3 M888.8,1161.8 Q888.8,1168.8 893.0,1171.3 M856.7,1180.4 Q850.2,1181.9 849.7,1188.9 M848.3,1179.4 L849.3,1188.9 M844.5,1179.4 Q844.5,1186.4 848.7,1188.9 M889.8,1182.6 Q883.3,1184.1 882.8,1191.1 M881.4,1181.6 L882.4,1191.1 M877.6,1181.6 Q877.6,1188.6 881.8,1191.1 M907.9,1182.6 Q901.4,1184.1 900.9,1191.1 M899.5,1181.6 L900.5,1191.1 M895.7,1181.6 Q895.7,1188.6 899.9,1191.1 M930.3,1179.9 Q923.8,1181.4 923.3,1188.4 M921.9,1178.9 L922.9,1188.4 M918.1,1178.9 Q918.1,1185.9 922.3,1188.4 M847.1,1196.4 Q840.6,1197.9 840.1,1204.9 M838.7,1195.4 L839.7,1204.9 M834.9,1195.4 Q834.9,1202.4 839.1,1204.9 M868.5,1198.0 Q862.0,1199.5 861.5,1206.5 M860.1,1197.0 L861.1,1206.5 M856.3,1197.0 Q856.3,1204.0 860.5,1206.5 M897.3,1198.6 Q890.8,1200.1 890.3,1207.1 M888.9,1197.6 L889.9,1207.1 M885.1,1197.6 Q885.1,1204.6 889.3,1207.1 M919.7,1200.7 Q913.2,1202.2 912.7,1209.2 M911.3,1199.7 L912.3,1209.2 M907.5,1199.7 Q907.5,1206.7 911.7,1209.2 M856.7,1219.4 Q850.2,1220.9 849.7,1227.9 M848.3,1218.4 L849.3,1227.9 M844.5,1218.4 Q844.5,1225.4 848.7,1227.9 M880.2,1216.7 Q873.7,1218.2 873.2,1225.2 M871.8,1215.7 L872.8,1225.2 M868.0,1215.7 Q868.0,1222.7 872.2,1225.2 M907.9,1220.4 Q901.4,1221.9 900.9,1228.9 M899.5,1219.4 L900.5,1228.9 M895.7,1219.4 Q895.7,1226.4 899.9,1228.9 M929.3,1218.8 Q922.8,1220.3 922.3,1227.3 M920.9,1217.8 L921.9,1227.3 M917.1,1217.8 Q917.1,1224.8 921.3,1227.3 M1165.7,1167.6 Q1159.2,1169.1 1158.7,1176.1 M1157.3,1166.6 L1158.3,1176.1 M1153.5,1166.6 Q1153.5,1173.6 1157.7,1176.1 M1134.7,1184.7 Q1128.2,1186.2 1127.7,1193.2 M1126.3,1183.7 L1127.3,1193.2 M1122.5,1183.7 Q1122.5,1190.7 1126.7,1193.2 M1111.3,1202.8 Q1104.8,1204.3 1104.3,1211.3 M1102.9,1201.8 L1103.9,1211.3 M1099.1,1201.8 Q1099.1,1208.8 1103.3,1211.3 M1152.9,1205.5 Q1146.4,1207.0 1145.9,1214.0 M1144.5,1204.5 L1145.5,1214.0 M1140.7,1204.5 Q1140.7,1211.5 1144.9,1214.0 M1132.6,1223.1 Q1126.1,1224.6 1125.6,1231.6 M1124.2,1222.1 L1125.2,1231.6 M1120.4,1222.1 Q1120.4,1229.1 1124.6,1231.6 M1100.0,1219.9 Q1093.5,1221.4 1093.0,1228.4 M1091.6,1218.9 L1092.6,1228.4 M1087.8,1218.9 Q1087.8,1225.9 1092.0,1228.4 " stroke-width="3.0"/>
<path d="M840.0,944.4 C844.4,945.4 858.0,947.6 866.7,950.3 C875.8,953.1 884.5,957.2 893.3,960.9 C900.5,964.0 907.6,967.2 914.7,970.5 C919.7,972.9 925.4,974.7 929.6,978.0 C931.8,979.7 933.1,982.8 933.9,985.5 C934.5,987.8 932.7,990.9 933.9,992.9 C936.2,997.0 941.2,999.8 944.5,1003.6 C948.4,1008.0 952.3,1012.5 955.2,1017.5 C958.3,1022.8 960.7,1028.7 962.7,1034.5 C964.6,1040.4 966.4,1046.5 966.9,1052.7 C967.5,1059.7 966.0,1070.4 965.9,1074.0" stroke-width="3.4"/>
<path d="M882.7,970.5 C884.4,972.7 889.6,979.2 893.3,983.3 C897.4,987.8 901.8,992.0 906.1,996.1 C910.3,1000.1 916.8,1005.9 918.9,1007.9" stroke-width="3.4"/>
<path d="M863.5,997.7 C864.9,998.0 869.4,998.1 872.0,999.3 C875.8,1001.1 879.5,1003.9 882.7,1006.8 C886.6,1010.3 889.8,1014.6 893.3,1018.5 C895.5,1021.0 898.7,1024.8 899.7,1026.0" stroke-width="3.4"/>
<path d="M840.0,1019.6 C843.6,1021.9 854.3,1028.7 861.3,1033.5 C868.5,1038.3 875.7,1043.2 882.7,1048.4 C886.7,1051.4 891.1,1054.3 894.4,1058.0 C896.8,1060.7 898.8,1066.0 899.7,1067.6" stroke-width="3.4"/>
<path d="M898.0,1064.0 C897.5,1065.7 895.0,1070.7 895.0,1074.0 C895.0,1077.3 896.1,1081.4 898.0,1084.0 C899.7,1086.4 903.2,1088.4 906.0,1089.0 C907.9,1089.4 911.0,1087.3 912.0,1087.0" stroke-width="3.4"/>
<path d="M909.3,1068.7 C908.6,1069.8 905.6,1072.7 905.0,1075.0 C904.5,1077.0 904.9,1079.9 906.0,1081.5 C907.4,1083.4 911.4,1085.0 912.5,1085.7" stroke-width="3.4"/>
<path d="M905.6,1013.9 C907.2,1011.9 909.7,1010.3 912.0,1009.1 C913.6,1008.2 915.7,1007.0 917.3,1007.5 C920.5,1008.4 923.9,1010.9 926.4,1013.3 C928.2,1015.1 929.8,1017.9 930.1,1020.3 C930.4,1022.0 929.3,1024.4 928.0,1025.6 C926.0,1027.4 922.8,1028.7 920.0,1029.3 C917.8,1029.8 915.1,1029.6 913.1,1028.8 C910.7,1027.8 908.1,1026.0 906.7,1024.0 C905.5,1022.3 905.3,1019.7 905.1,1017.6 C904.9,1016.4 904.9,1014.8 905.6,1013.9Z" stroke-width="3.4"/>
<path d="M925.3,1011.7 C926.7,1012.0 931.0,1012.3 933.3,1013.3 C934.9,1014.0 936.6,1015.6 937.1,1017.1 C937.5,1018.8 936.6,1021.1 936.0,1022.9 C935.2,1025.3 934.2,1027.9 932.8,1029.9 C932.1,1030.9 930.1,1031.6 929.6,1032.0" stroke-width="3.4"/>
<path d="M896.0,1032.0 L929.6,1032.0" stroke-width="3.4"/>
<path d="M907.7,1029.9 L896.0,1025.6 C895.6,1026.7 893.6,1029.9 893.6,1032.0 C893.6,1033.6 894.6,1035.9 896.0,1036.8 C897.9,1038.1 900.9,1038.3 903.5,1038.4 C914.8,1038.8 931.9,1038.4 937.6,1038.4" stroke-width="3.4"/>
<path d="M904.5,1039.5 L927.0,1124.0" stroke-width="3.4"/>
<path d="M916.8,1039.5 L938.0,1108.0" stroke-width="3.4"/>
<path d="M929.6,1033.1 L934.4,1057.6" stroke-width="3.4"/>
<path d="M929.6,1033.1 C931.8,1033.8 939.9,1034.4 942.9,1037.3 C946.5,1040.8 947.5,1047.2 949.3,1052.3 C950.0,1054.0 950.2,1056.7 950.4,1057.6" stroke-width="3.4"/>
<path d="M937.1,1038.4 C937.8,1038.9 940.6,1040.2 941.3,1041.6 C942.0,1043.0 940.9,1045.3 941.3,1046.9 C941.7,1048.3 943.4,1049.3 944.0,1050.7 C945.0,1052.8 945.8,1056.4 946.1,1057.6" stroke-width="3.4"/>
<path d="M936.5,1021.3 C938.2,1022.0 943.6,1023.6 946.7,1025.6 C949.7,1027.6 952.7,1030.1 954.7,1033.1 C956.5,1035.8 957.7,1039.4 957.9,1042.7 C958.1,1046.2 957.0,1050.1 955.7,1053.3 C954.9,1055.4 952.2,1057.8 951.5,1058.7" stroke-width="3.4"/>
<path d="M928.0,1066.7 C929.5,1063.9 930.9,1060.3 933.3,1058.7 C935.4,1057.3 938.7,1057.4 941.3,1057.6 C944.4,1057.9 947.8,1058.8 950.4,1060.3 C951.7,1061.0 953.0,1062.7 953.1,1064.0 C953.2,1065.7 952.1,1067.9 950.9,1069.3 C949.1,1071.5 946.6,1073.6 944.0,1074.7 C940.7,1076.0 936.8,1076.8 933.3,1076.8 C931.8,1076.8 930.0,1075.8 929.1,1074.7 C928.0,1073.3 927.7,1071.1 927.5,1069.3 C927.3,1068.5 927.6,1067.5 928.0,1066.7Z" stroke-width="3.4"/>
<path d="M931.2,1075.7 C932.3,1074.8 935.3,1071.7 937.6,1070.4 C938.7,1069.8 940.3,1069.4 941.3,1069.9 C942.6,1070.5 944.0,1073.0 944.5,1073.6" stroke-width="3.4"/>
<path d="M958.4,1035.6 C959.8,1035.5 966.2,1035.0 966.9,1035.1 C967.4,1035.1 960.5,1036.3 962.0,1036.0 C992.2,1029.9 1045.3,1019.3 1062.0,1016.0" stroke-width="3.4"/>
<path d="M1388.8,943.9 C1382.9,945.0 1365.0,947.5 1353.3,950.4 C1343.8,952.8 1334.1,955.5 1325.3,959.7 C1317.3,963.6 1310.0,969.2 1302.9,974.7 C1299.5,977.3 1295.2,980.4 1293.6,984.0 C1292.4,986.6 1295.9,990.8 1294.5,993.3 C1290.9,1000.1 1283.7,1005.6 1278.7,1012.0 C1274.0,1018.0 1268.7,1023.9 1265.6,1030.7 C1263.1,1036.3 1262.2,1043.1 1261.9,1049.3 C1261.6,1055.5 1262.5,1061.9 1263.7,1068.0 C1265.0,1074.3 1266.7,1080.8 1269.3,1086.7 C1271.1,1090.5 1274.0,1095.8 1276.8,1096.9 C1278.4,1097.6 1281.5,1093.0 1282.4,1092.3" stroke-width="3.4"/>
<path d="M1344.9,970.9 C1341.7,973.7 1331.8,982.1 1325.3,987.7 C1319.0,993.3 1312.8,998.8 1306.7,1004.5 C1304.1,1006.9 1300.4,1010.8 1299.2,1012.0" stroke-width="3.4"/>
<path d="M1363.6,997.1 C1362.2,997.4 1357.8,997.7 1355.2,998.9 C1351.2,1000.8 1347.3,1003.4 1344.0,1006.4 C1339.2,1010.9 1335.4,1016.4 1330.9,1021.3 C1329.2,1023.3 1326.3,1026.0 1325.3,1026.9" stroke-width="3.4"/>
<path d="M1390.7,1015.7 C1386.0,1018.8 1371.8,1027.9 1362.7,1034.4 C1356.2,1039.1 1350.2,1044.3 1344.0,1049.3 C1340.2,1052.4 1335.9,1056.8 1332.8,1058.7 C1332.2,1059.0 1333.3,1055.5 1333.0,1056.0 C1331.8,1058.0 1329.0,1064.5 1328.2,1066.2" stroke-width="3.4"/>
<path d="M1318.6,1062.6 C1320.0,1063.0 1325.0,1063.2 1327.0,1065.0 C1329.2,1067.0 1330.2,1070.9 1331.2,1074.0 C1331.8,1075.9 1331.9,1078.5 1331.8,1080.0 C1331.8,1080.3 1331.2,1079.0 1330.9,1079.2 C1328.4,1081.8 1326.3,1087.3 1323.5,1088.5 C1321.9,1089.2 1318.8,1085.4 1317.9,1084.8" stroke-width="3.4"/>
<path d="M1316.8,1070.4 C1317.8,1071.2 1321.2,1073.3 1322.8,1075.2 C1324.0,1076.5 1324.8,1079.2 1325.2,1080.0" stroke-width="3.4"/>
<path d="M1298.2,1018.8 C1298.6,1016.3 1301.0,1013.6 1303.0,1011.6 C1304.6,1010.0 1306.9,1008.1 1309.0,1008.0 C1311.9,1007.9 1315.5,1009.3 1318.0,1011.0 C1319.9,1012.3 1321.7,1014.8 1322.2,1017.0 C1322.7,1019.0 1322.1,1021.8 1321.0,1023.6 C1319.7,1025.6 1317.3,1027.5 1315.0,1028.4 C1312.9,1029.3 1310.1,1029.5 1307.8,1029.0 C1305.3,1028.5 1302.3,1027.2 1300.6,1025.4 C1299.1,1023.8 1297.8,1020.9 1298.2,1018.8Z" stroke-width="3.4"/>
<path d="M1297.0,1029.0 C1295.9,1027.2 1291.7,1021.8 1290.4,1018.2 C1290.1,1017.2 1291.3,1015.8 1292.2,1015.2 C1293.5,1014.2 1295.4,1013.9 1297.0,1013.4 C1299.0,1012.8 1302.0,1012.1 1303.0,1011.9" stroke-width="3.4"/>
<path d="M1345.0,1006.8 C1342.5,1009.7 1335.6,1019.2 1330.0,1024.2 C1327.6,1026.4 1324.1,1027.3 1321.0,1028.4 C1319.5,1028.9 1317.0,1028.9 1316.2,1029.0" stroke-width="3.4"/>
<path d="M1330.0,1024.2 C1330.5,1025.0 1332.4,1027.3 1333.0,1029.0 C1333.6,1030.5 1333.5,1033.0 1333.6,1033.8" stroke-width="3.4"/>
<path d="M1283.8,1037.4 L1298.2,1032.0 C1303.8,1031.9 1321.0,1030.8 1331.8,1031.4 C1332.8,1031.4 1333.8,1033.1 1333.6,1033.8 C1333.2,1035.1 1331.4,1036.6 1330.0,1037.4 C1328.4,1038.2 1325.5,1038.4 1324.6,1038.6 L1283.8,1037.4Z" stroke-width="3.4"/>
<path d="M1297.0,1029.0 C1297.2,1030.3 1298.5,1034.2 1298.2,1036.8 C1297.5,1043.6 1294.7,1053.8 1294.0,1057.2" stroke-width="3.4"/>
<path d="M1310.2,1039.2 C1308.8,1046.0 1305.1,1066.5 1301.8,1080.0 C1297.4,1098.2 1289.5,1125.2 1287.1,1134.3" stroke-width="3.4"/>
<path d="M1323.4,1039.2 C1321.6,1046.0 1316.1,1066.4 1312.6,1080.0 C1308.0,1098.1 1301.4,1125.2 1299.2,1134.3" stroke-width="3.4"/>
<path d="M1288.6,1021.2 C1287.0,1022.0 1281.7,1023.8 1279.0,1026.0 C1276.1,1028.4 1273.3,1031.6 1271.8,1035.0 C1270.3,1038.6 1269.8,1043.1 1270.0,1047.0 C1270.2,1050.1 1271.5,1053.3 1273.0,1056.0 C1274.1,1057.9 1277.0,1060.0 1277.8,1060.8" stroke-width="3.4"/>
<path d="M1283.8,1037.4 C1283.3,1038.5 1281.7,1041.7 1280.8,1044.0 C1280.1,1045.9 1279.4,1048.0 1279.0,1050.0 C1278.6,1052.6 1278.5,1056.5 1278.4,1057.8" stroke-width="3.4"/>
<path d="M1285.0,1042.8 C1284.6,1043.6 1282.5,1046.2 1282.6,1047.6 C1282.7,1048.6 1285.1,1049.6 1285.6,1050.0" stroke-width="3.4"/>
<path d="M1274.8,1065.0 C1274.8,1063.0 1277.1,1060.6 1279.0,1059.6 C1281.7,1058.2 1285.5,1057.4 1288.6,1057.8 C1291.5,1058.2 1295.2,1059.8 1297.0,1062.0 C1298.8,1064.2 1299.2,1068.0 1299.4,1071.0 C1299.6,1073.6 1299.3,1076.5 1298.2,1078.8 C1297.3,1080.7 1295.3,1083.0 1293.4,1083.6 C1291.3,1084.2 1288.1,1083.7 1286.2,1082.4 C1283.3,1080.5 1281.0,1077.1 1279.0,1074.0 C1277.2,1071.3 1274.8,1067.8 1274.8,1065.0Z" stroke-width="3.4"/>
<path d="M1283.2,1071.0 C1284.1,1070.8 1286.9,1069.5 1288.6,1069.8 C1290.3,1070.1 1292.0,1071.6 1293.4,1072.8 C1294.8,1074.0 1296.4,1076.3 1297.0,1077.0" stroke-width="3.4"/>
<path d="M1284.3,1079.2 L1274.9,1135.2" stroke-width="3.4"/>
<path d="M1164.8,1015.7 L1269.3,1037.2" stroke-width="3.4"/>
<path d="M1120.0,1068.9 C1126.2,1071.6 1144.9,1079.6 1157.3,1084.8 C1178.5,1093.6 1210.2,1106.6 1220.8,1110.9" stroke-width="3.4"/>
<path d="M1222.1,1117.4 C1222.8,1115.6 1223.1,1108.2 1226.0,1106.8 C1232.1,1103.8 1241.9,1103.6 1249.2,1104.3 C1252.2,1104.5 1255.1,1107.2 1256.9,1109.7 C1260.3,1114.2 1263.7,1120.2 1264.7,1125.1 C1265.0,1126.7 1262.6,1128.8 1260.8,1129.0 C1251.0,1130.1 1238.8,1131.7 1229.9,1129.0 C1225.9,1127.8 1223.4,1119.3 1222.1,1117.4" stroke-width="3.4"/>
<path d="M1214.4,1130.0 L1260.8,1127.1" stroke-width="3.4"/>
<path d="M1233.7,1130.9 L1208.6,1217.9" stroke-width="3.4"/>
<path d="M1241.5,1132.9 L1221.2,1217.9" stroke-width="3.4"/>
<path d="M1254.0,1132.9 L1232.8,1217.9" stroke-width="3.4"/>
<path d="M1222.1,1113.5 C1219.9,1114.8 1212.2,1117.7 1208.6,1121.3 C1205.1,1124.8 1201.5,1130.0 1200.9,1134.8 C1200.2,1139.7 1202.3,1146.2 1204.7,1150.3 C1205.8,1152.0 1210.6,1153.1 1211.5,1152.2 C1212.5,1151.2 1210.2,1147.0 1210.5,1144.5 C1211.2,1139.9 1213.8,1133.2 1214.4,1130.9" stroke-width="3.4"/>
<path d="M1078.0,969.3 C1076.9,972.3 1073.0,981.2 1071.3,987.3 C1069.4,994.7 1068.0,1002.4 1067.3,1010.0 C1066.6,1018.8 1066.9,1027.8 1067.3,1036.7 C1067.8,1045.6 1068.3,1054.6 1070.0,1063.3 C1071.0,1068.4 1074.4,1075.6 1075.3,1078.0" stroke-width="3.4"/>
<path d="M1151.3,970.7 C1152.4,975.0 1156.6,987.9 1158.0,996.7 C1159.7,1007.6 1160.4,1018.9 1160.7,1030.0 C1160.9,1041.1 1160.1,1052.3 1159.3,1063.3 C1158.8,1070.5 1157.1,1081.1 1156.7,1084.7" stroke-width="3.4"/>
<path d="M1076.0,972.7 C1072.8,972.8 1063.0,972.3 1056.7,973.3 C1048.5,974.7 1040.2,976.9 1032.7,980.0 C1029.3,981.4 1025.5,983.8 1024.0,986.7 C1022.8,988.9 1023.7,992.7 1024.7,995.3 C1026.1,999.1 1028.8,1002.7 1031.3,1006.0 C1034.2,1009.8 1037.0,1014.1 1040.7,1016.7 C1042.8,1018.1 1046.0,1018.3 1048.7,1018.0 C1054.9,1017.4 1064.2,1014.7 1067.3,1014.0" stroke-width="3.4"/>
<path d="M1151.3,972.0 C1155.1,972.3 1166.7,972.4 1174.0,974.0 C1181.8,975.7 1189.5,978.6 1196.7,982.0 C1199.3,983.3 1202.8,985.5 1203.3,988.0 C1204.1,991.3 1202.3,995.9 1200.7,999.3 C1198.8,1003.2 1195.8,1006.9 1192.7,1010.0 C1190.0,1012.7 1186.9,1015.9 1183.3,1016.7 C1178.4,1017.7 1170.0,1015.6 1167.3,1015.3" stroke-width="3.4"/>
<path d="M1068.7,988.7 C1067.3,988.9 1063.2,989.1 1060.7,990.0 C1058.3,990.9 1056.3,992.8 1054.0,994.0 C1051.9,995.1 1049.6,996.1 1047.3,996.7 C1046.1,997.0 1044.1,995.9 1043.3,996.7 C1042.3,997.7 1041.9,1000.2 1042.0,1002.0 C1042.1,1004.2 1042.7,1006.9 1044.0,1008.7 C1045.0,1010.0 1047.3,1011.7 1048.7,1011.3 C1050.6,1010.8 1052.2,1007.7 1054.0,1006.0 C1055.7,1004.4 1057.3,1002.4 1059.3,1001.3 C1061.7,1000.1 1066.0,999.7 1067.3,999.3" stroke-width="3.4"/>
<path d="M1160.7,988.7 C1162.0,988.9 1166.2,989.1 1168.7,990.0 C1171.1,990.9 1173.0,992.8 1175.3,994.0 C1177.5,995.1 1179.7,996.1 1182.0,996.7 C1183.3,997.0 1185.3,995.9 1186.0,996.7 C1187.0,997.7 1187.4,1000.2 1187.3,1002.0 C1187.2,1004.2 1186.6,1006.9 1185.3,1008.7 C1184.4,1010.0 1182.1,1011.7 1180.7,1011.3 C1178.7,1010.8 1177.2,1007.7 1175.3,1006.0 C1173.6,1004.4 1172.1,1002.4 1170.0,1001.3 C1167.6,1000.1 1163.3,999.7 1162.0,999.3" stroke-width="3.4"/>
<path d="M1036.0,997.3 m-2,0 a2,2 0 1,0 4,0 a2,2 0 1,0 -4,0" stroke-width="2.2"/>
<path d="M1037.3,1003.3 m-2,0 a2,2 0 1,0 4,0 a2,2 0 1,0 -4,0" stroke-width="2.2"/>
<path d="M1040.0,1008.7 m-2,0 a2,2 0 1,0 4,0 a2,2 0 1,0 -4,0" stroke-width="2.2"/>
<path d="M1045.3,1012.7 m-2,0 a2,2 0 1,0 4,0 a2,2 0 1,0 -4,0" stroke-width="2.2"/>
<path d="M1192.7,997.3 m-2,0 a2,2 0 1,0 4,0 a2,2 0 1,0 -4,0" stroke-width="2.2"/>
<path d="M1191.3,1003.3 m-2,0 a2,2 0 1,0 4,0 a2,2 0 1,0 -4,0" stroke-width="2.2"/>
<path d="M1188.7,1008.7 m-2,0 a2,2 0 1,0 4,0 a2,2 0 1,0 -4,0" stroke-width="2.2"/>
<path d="M1183.3,1012.7 m-2,0 a2,2 0 1,0 4,0 a2,2 0 1,0 -4,0" stroke-width="2.2"/>
<path d="M1111.3,983.3 C1112.0,982.8 1114.0,980.0 1115.3,980.0 C1116.7,980.0 1119.1,982.0 1119.3,983.3 C1119.6,984.9 1116.9,986.7 1116.7,988.7 C1116.0,996.1 1117.3,1003.9 1116.7,1011.3 C1116.4,1015.0 1114.4,1020.2 1114.0,1022.0" stroke-width="3.4"/>
<path d="M1090.0,977.3 C1092.9,977.5 1098.8,981.6 1103.3,983.3 C1105.5,984.1 1108.7,983.7 1110.0,984.9 C1110.9,985.9 1111.1,989.5 1110.0,990.0 C1108.0,990.9 1103.5,990.0 1100.7,988.9 C1097.3,987.6 1093.7,985.3 1091.3,982.7 C1090.2,981.4 1088.9,977.3 1090.0,977.3Z" stroke-width="3.4"/>
<path d="M1140.7,977.3 C1137.8,977.5 1131.9,981.6 1127.3,983.3 C1125.2,984.1 1121.9,983.7 1120.7,984.9 C1119.7,985.9 1119.6,989.5 1120.7,990.0 C1122.7,990.9 1127.2,990.0 1130.0,988.9 C1133.4,987.6 1136.9,985.3 1139.3,982.7 C1140.5,981.4 1141.8,977.3 1140.7,977.3Z" stroke-width="3.4"/>
<path d="M1084.7,987.3 C1087.5,987.6 1092.4,992.6 1096.7,994.0 C1100.4,995.2 1105.9,993.8 1108.7,995.3 C1109.9,996.1 1110.0,1000.5 1108.7,1000.9 C1105.5,1001.9 1099.5,1001.0 1095.3,999.6 C1091.5,998.3 1087.1,995.8 1084.7,992.9 C1083.6,991.7 1083.5,987.2 1084.7,987.3Z" stroke-width="3.4"/>
<path d="M1146.0,987.3 C1143.2,987.6 1138.3,992.6 1134.0,994.0 C1130.3,995.2 1124.7,993.8 1122.0,995.3 C1120.7,996.1 1120.7,1000.5 1122.0,1000.9 C1125.1,1001.9 1131.2,1001.0 1135.3,999.6 C1139.2,998.3 1143.5,995.8 1146.0,992.9 C1147.1,991.7 1147.2,987.2 1146.0,987.3Z" stroke-width="3.4"/>
<path d="M1080.7,995.3 C1083.4,995.6 1088.3,1001.7 1092.7,1003.3 C1097.6,1005.2 1104.7,1004.0 1108.7,1006.0 C1110.0,1006.7 1110.0,1011.2 1108.7,1011.6 C1104.7,1012.7 1097.6,1011.9 1092.7,1010.3 C1088.3,1008.8 1083.4,1005.6 1080.7,1002.3 C1079.4,1000.7 1079.4,995.2 1080.7,995.3Z" stroke-width="3.4"/>
<path d="M1150.0,995.3 C1147.3,995.6 1142.4,1001.7 1138.0,1003.3 C1133.1,1005.2 1126.0,1004.0 1122.0,1006.0 C1120.6,1006.7 1120.6,1011.2 1122.0,1011.6 C1126.0,1012.7 1133.1,1011.9 1138.0,1010.3 C1142.4,1008.8 1147.3,1005.6 1150.0,1002.3 C1151.3,1000.7 1151.3,995.2 1150.0,995.3Z" stroke-width="3.4"/>
<path d="M1084.7,1011.3 C1084.1,1012.7 1085.6,1017.5 1087.3,1019.3 C1089.1,1021.2 1093.3,1023.2 1095.3,1022.7 C1096.9,1022.3 1098.8,1018.1 1098.0,1016.7 C1097.0,1014.7 1092.8,1013.8 1090.0,1012.7 C1088.3,1012.0 1085.0,1010.5 1084.7,1011.3Z" stroke-width="3.4"/>
<path d="M1146.0,1011.3 C1146.5,1012.7 1145.1,1017.5 1143.3,1019.3 C1141.5,1021.2 1137.4,1023.2 1135.3,1022.7 C1133.8,1022.3 1131.9,1018.1 1132.7,1016.7 C1133.7,1014.7 1137.9,1013.8 1140.7,1012.7 C1142.4,1012.0 1145.6,1010.5 1146.0,1011.3Z" stroke-width="3.4"/>
<path d="M1100.7,1016.7 C1102.0,1017.1 1106.1,1018.2 1108.7,1019.3 C1110.6,1020.2 1112.2,1022.7 1114.0,1022.7 C1116.2,1022.7 1118.4,1020.3 1120.7,1019.3 C1123.3,1018.3 1127.3,1017.1 1128.7,1016.7" stroke-width="3.4"/>
<path d="M1114.0,1038.0 C1115.8,1036.7 1120.6,1031.6 1124.7,1030.0 C1130.4,1027.6 1137.3,1026.0 1143.3,1026.0 C1145.8,1026.0 1149.7,1027.9 1150.0,1030.0 C1150.6,1034.5 1148.6,1041.4 1146.0,1046.0 C1142.8,1051.6 1137.9,1056.9 1132.7,1060.7 C1128.1,1064.0 1122.1,1066.8 1116.7,1067.3 C1112.3,1067.7 1106.9,1066.0 1103.3,1063.3 C1097.5,1058.9 1093.4,1051.9 1088.7,1046.0 C1084.5,1040.8 1078.3,1035.0 1076.7,1030.0 C1076.1,1028.3 1079.9,1026.0 1082.0,1026.0 C1088.8,1026.0 1096.7,1027.5 1103.3,1030.0 C1107.4,1031.5 1112.2,1036.7 1114.0,1038.0Z" stroke-width="3.4"/>
<path d="M1092.7,1040.7 m-5.5,0 a5.5,2.8 0 1,0 11,0 a5.5,2.8 0 1,0 -11,0" transform="rotate(35 1092.7 1040.7)" stroke-width="3.0"/>
<path d="M1133.3,1040.7 m-5.5,0 a5.5,2.8 0 1,0 11,0 a5.5,2.8 0 1,0 -11,0" transform="rotate(-35 1133.3 1040.7)" stroke-width="3.0"/>
<path d="M1079.7,1065.7 C1080.0,1064.6 1082.6,1063.4 1083.9,1063.8 C1086.2,1064.5 1088.8,1066.9 1090.4,1068.9 C1091.1,1069.9 1091.4,1071.7 1090.9,1072.7 C1090.1,1074.0 1087.1,1074.4 1086.7,1075.9 C1085.9,1078.8 1088.2,1083.9 1087.4,1085.7 C1087.1,1086.6 1083.9,1085.1 1083.4,1083.9 C1082.0,1080.4 1082.4,1075.7 1081.5,1071.7 C1081.1,1069.7 1079.2,1067.2 1079.7,1065.7Z" stroke-width="3.4"/>
<path d="M1136.1,1071.3 C1137.5,1068.5 1143.6,1064.6 1146.4,1063.8 C1147.3,1063.5 1147.6,1066.6 1147.3,1068.0 C1146.9,1070.5 1144.9,1072.9 1144.5,1075.5 C1144.1,1079.1 1144.3,1083.1 1145.0,1086.7 C1145.4,1088.7 1148.0,1090.6 1147.8,1092.3 C1147.6,1093.9 1145.3,1095.8 1143.6,1096.5 C1141.7,1097.2 1138.9,1097.1 1137.1,1096.5 C1136.2,1096.2 1135.3,1094.4 1135.7,1093.7 C1136.4,1092.1 1139.8,1091.3 1140.3,1089.5 C1141.4,1085.6 1141.3,1080.4 1140.3,1076.4 C1139.9,1074.4 1135.4,1072.7 1136.1,1071.3Z" stroke-width="3.4"/>
<path d="M1155.9,1084.4 C1156.8,1087.1 1159.3,1095.3 1161.3,1100.7 C1163.3,1106.0 1166.4,1111.1 1167.9,1116.5 C1169.0,1120.7 1169.8,1125.4 1169.3,1129.6 C1168.8,1133.5 1167.6,1138.0 1165.1,1140.8 C1162.4,1143.8 1157.9,1145.9 1153.9,1146.9 C1149.2,1148.0 1143.7,1148.2 1138.9,1147.3 C1134.4,1146.5 1129.7,1144.4 1125.9,1141.7 C1121.3,1138.5 1115.8,1131.6 1113.7,1129.6" stroke-width="3.4"/>
<path d="M1148.0,1064.3 C1147.1,1064.6 1143.7,1064.8 1142.4,1066.1 C1140.6,1068.0 1138.9,1071.0 1138.7,1073.6 C1138.3,1077.8 1141.3,1082.7 1140.5,1086.7 C1140.0,1089.5 1135.3,1091.8 1134.9,1094.1 C1134.7,1095.5 1137.2,1097.9 1138.7,1097.9 C1141.0,1097.9 1145.2,1096.1 1146.1,1094.1 C1147.0,1092.3 1144.3,1089.2 1144.3,1086.7 C1144.3,1083.0 1145.8,1077.3 1146.1,1075.5" stroke-width="3.4"/>
<path d="M1064.0,864.0 C1062.1,866.0 1055.9,871.5 1052.8,876.0 C1049.5,880.9 1046.6,886.4 1044.8,892.0 C1043.2,897.1 1042.0,902.7 1042.4,908.0 C1043.1,917.6 1044.0,928.2 1048.0,936.8 C1052.2,945.8 1059.3,954.7 1067.2,960.8 C1075.3,967.0 1086.1,970.6 1096.0,973.6 C1102.1,975.4 1108.8,975.5 1115.2,975.2 C1122.2,974.9 1129.5,974.3 1136.0,972.0 C1144.4,969.0 1153.2,965.0 1160.0,959.2 C1167.6,952.7 1174.6,944.1 1179.2,935.2 C1183.4,927.0 1185.8,917.1 1186.4,908.0 C1186.9,901.1 1184.7,893.8 1182.4,887.2 C1180.7,882.1 1177.7,877.1 1174.4,872.8 C1171.8,869.4 1166.4,865.5 1164.8,864.0" stroke-width="3.4"/>
<path d="M1077.6,836.8 C1078.0,834.0 1078.5,825.4 1080.0,820.0 C1081.5,814.5 1083.9,809.2 1086.4,804.0 C1089.0,798.5 1093.7,790.7 1095.2,788.0 C1092.7,788.0 1085.0,787.4 1080.0,788.0 C1076.2,788.5 1071.9,792.4 1068.8,791.2 C1064.9,789.7 1061.9,784.1 1059.2,780.0 C1057.1,776.9 1055.2,771.3 1054.4,769.6 C1058.1,770.3 1069.6,774.1 1076.8,773.6 C1081.3,773.3 1085.5,769.6 1089.6,767.2 C1094.6,764.3 1098.8,759.9 1104.0,757.6 C1108.4,755.6 1113.7,754.3 1118.4,754.4 C1122.2,754.5 1126.7,756.0 1129.6,758.4 C1133.6,761.8 1136.9,767.0 1139.2,772.0 C1142.7,779.6 1144.9,787.9 1147.2,796.0 C1149.2,802.8 1150.8,809.8 1152.0,816.8 C1153.2,823.4 1154.0,833.5 1154.4,836.8" stroke-width="3.4"/>
<path d="M1076.0,836.8 L1154.4,836.8 L1156.0,850.4" stroke-width="3.4"/>
<path d="M1076.0,836.8 L1074.4,850.4" stroke-width="3.4"/>
<path d="M1101.1,852.0 L1101.1,834.4 L1130.4,834.4 L1130.4,852.0" stroke-width="3.4"/>
<path d="M1108.0,852.0 L1108.0,844.0 L1123.2,844.0 L1123.2,852.0" stroke-width="3.4"/>
<path d="M1064.0,850.1 C1080.0,848.8 1098.1,852.3 1115.2,852.3 C1131.7,852.3 1149.1,849.0 1164.8,850.1 C1167.2,850.2 1169.6,853.9 1169.6,856.0 C1169.6,858.6 1167.7,863.4 1164.8,864.0 C1149.5,867.1 1131.7,867.2 1115.2,867.2 C1098.1,867.2 1079.9,867.0 1064.0,864.0 C1061.5,863.5 1060.0,859.2 1060.0,856.8 C1060.0,854.5 1061.6,850.3 1064.0,850.1Z" stroke-width="3.4"/>
<path d="M1071.7,907.2 L1087.7,896.8 L1096.8,917.9Z" style="fill:#120a08" stroke-width="1.5"/>
<path d="M1151.2,906.7 L1134.7,896.8 L1126.4,917.9Z" style="fill:#120a08" stroke-width="1.5"/>
<path d="M1099.2,925.9 L1111.7,912.0 L1123.5,926.4Z" style="fill:#120a08" stroke-width="1.5"/>
<path d="M1063.2,916.0 C1065.2,917.6 1070.8,923.1 1075.2,925.6 C1080.7,928.7 1086.7,931.1 1092.8,932.8 C1098.5,934.4 1107.5,935.1 1110.4,935.5 L1112.0,941.9 L1132.8,938.4 L1130.4,932.0 C1132.7,931.5 1139.8,930.6 1144.0,928.8 C1149.6,926.4 1157.3,921.1 1160.0,919.5 C1159.2,921.6 1157.6,928.3 1155.2,932.0 C1152.3,936.5 1148.3,940.7 1144.0,944.0 C1140.3,946.9 1135.5,948.4 1131.2,950.4 C1128.7,951.6 1124.8,953.1 1123.5,953.6 L1121.6,946.7 L1104.0,947.7 L1102.4,954.4 L1091.2,949.6 L1094.4,943.2 L1081.6,941.9 L1079.2,936.8 C1077.7,935.5 1072.8,931.9 1070.4,928.8 C1067.5,925.0 1064.4,918.1 1063.2,916.0Z" style="fill:#120a08" stroke-width="1.5"/>
<path d="M1020.5,1060 a96.5,96.5 0 1,0 0.01,0 Z" style="fill:#fff" stroke-width="3.5"/>
<path d="M972.0,1072.0 L980.0,1120.0" stroke-width="3.4"/>
<path d="M1063.3,1072.7 L1058.7,1114.7" stroke-width="3.4"/>
<path d="M980.0,1120.0 C978.0,1122.0 971.2,1127.4 968.0,1132.0 C965.2,1136.1 962.0,1141.3 962.0,1146.0 C962.0,1151.9 964.1,1159.7 968.0,1164.0 C972.1,1168.4 979.8,1171.3 986.0,1172.0 C991.8,1172.6 998.7,1170.7 1004.0,1168.0 C1009.3,1165.3 1015.7,1158.0 1018.0,1156.0 C1020.0,1158.0 1025.3,1165.0 1030.0,1168.0 C1034.7,1171.0 1040.5,1173.4 1046.0,1174.0 C1051.8,1174.7 1059.2,1174.6 1064.0,1172.0 C1067.8,1169.9 1070.9,1164.5 1072.0,1160.0 C1073.5,1153.8 1072.9,1146.4 1072.0,1140.0 C1071.6,1137.2 1069.1,1135.0 1068.0,1132.4 C1066.6,1129.1 1065.9,1125.3 1064.3,1122.1 C1062.8,1119.4 1059.6,1115.9 1058.7,1114.7" stroke-width="3.4"/>
<path d="M984.0,1090.0 C986.2,1090.5 992.4,1093.7 994.0,1096.0 C994.7,1097.0 991.2,1098.4 991.0,1100.0 C990.5,1105.1 991.0,1110.9 992.0,1116.0 C992.3,1117.6 995.5,1119.1 995.0,1120.0 C994.2,1121.4 990.3,1123.0 988.0,1123.0 C986.3,1123.0 983.2,1121.6 983.0,1120.0 C982.6,1117.2 985.7,1113.4 986.0,1110.0 C986.4,1104.8 985.5,1099.3 985.0,1094.0 C984.9,1092.6 983.2,1089.8 984.0,1090.0Z" stroke-width="3.4"/>
<path d="M1052.0,1089.0 C1052.6,1090.7 1049.4,1099.0 1049.0,1104.0 C1048.6,1108.0 1049.4,1112.0 1049.6,1116.0 C1049.7,1117.7 1051.0,1120.1 1050.0,1121.0 C1048.4,1122.5 1044.4,1123.2 1042.0,1123.0 C1040.8,1122.9 1038.7,1120.9 1039.0,1120.0 C1039.4,1118.6 1043.7,1117.9 1044.0,1116.0 C1044.7,1111.2 1041.5,1104.9 1042.0,1100.0 C1042.2,1098.3 1044.7,1097.4 1046.0,1096.0 C1048.1,1093.7 1051.6,1088.0 1052.0,1089.0Z" stroke-width="3.4"/>
<path d="M978.0,1192.0 C978.3,1190.0 978.1,1183.2 980.0,1180.0 C981.5,1177.5 985.0,1175.5 988.0,1175.0 C993.0,1174.2 1000.3,1173.8 1004.0,1176.0 C1006.3,1177.4 1006.2,1182.9 1006.0,1186.0 C1005.9,1187.5 1003.5,1189.3 1003.0,1190.0 L978.0,1192.0Z" stroke-width="3.4"/>
<path d="M986.0,1194.0 L996.0,1240.0" stroke-width="3.4"/>
<path d="M994.0,1194.0 L1005.0,1240.0" stroke-width="3.4"/>
<path d="M1002.0,1194.0 L1015.0,1238.0" stroke-width="3.4"/>
<path d="M1006.0,1181.0 C1008.0,1181.5 1015.1,1181.6 1018.0,1184.0 C1021.1,1186.6 1023.2,1191.8 1024.0,1196.0 C1024.6,1199.2 1023.7,1203.9 1022.0,1206.0 C1021.0,1207.2 1017.1,1207.1 1016.0,1206.0 C1014.5,1204.5 1014.3,1199.3 1014.0,1198.0" stroke-width="3.4"/>
<path d="M1020.0,1158.0 L1008.0,1176.0" stroke-width="3.4"/>
<path d="M986.4,1068.4 C988.0,1070.4 992.5,1076.6 996.0,1080.4 C998.7,1083.3 1001.5,1086.4 1004.8,1088.4 C1008.1,1090.4 1012.2,1092.1 1016.0,1092.4 C1019.9,1092.7 1024.5,1091.8 1028.0,1090.0 C1032.5,1087.8 1036.5,1084.1 1040.0,1080.4 C1043.7,1076.6 1048.0,1069.7 1049.6,1067.6" stroke-width="3.4"/>
<path d="M994.4,1065.2 C994.9,1065.9 996.3,1068.1 997.6,1069.2 C998.7,1070.1 1000.3,1071.2 1001.6,1071.2 C1002.5,1071.2 1003.7,1070.1 1004.0,1069.2 C1004.4,1068.1 1003.7,1065.9 1003.6,1065.2" stroke-width="3.4"/>
<path d="M1041.6,1065.2 C1040.8,1065.9 1038.6,1068.2 1036.8,1069.2 C1035.6,1069.8 1033.9,1070.3 1032.8,1070.0 C1032.0,1069.8 1031.2,1068.4 1031.2,1067.6 C1031.2,1066.7 1032.5,1065.3 1032.8,1064.8" stroke-width="3.4"/>
<path d="M1015.2,1063.0 L1020.0,1063.0 L1017.6,1065.2Z" style="fill:#0a0404" stroke-width="1.2"/></g>
</g>
<rect class="b" x="473.5" y="36.5" width="553" height="556" rx="24.5"/>
<rect class="b" x="107.5" y="710.5" width="552" height="556" rx="24.5"/>
<rect class="b" x="838.5" y="711.5" width="552" height="556" rx="24.5"/>

<path d="M544.5,151 L551.9,151 L551.9,90 L547,90 C543,96 537,101 529.3,105 L529.3,112 C535,109.5 540,107 544.5,103.5 Z" fill="#231815"/>
<text x="529" y="809" font-size="88.6">2</text>
<text x="1289" y="812" font-size="88.6">3</text>
<text class="t" x="657.20" y="695.3" font-size="63.2" textLength="31.65" lengthAdjust="spacingAndGlyphs">Z</text>
<text class="t" x="693.60" y="695.3" font-size="63.2" textLength="12.80" lengthAdjust="spacingAndGlyphs">I</text>
<text class="t" x="713.20" y="695.3" font-size="63.2" textLength="34.14" lengthAdjust="spacingAndGlyphs">P</text>
<text class="t" x="767.40" y="695.3" font-size="63.2" textLength="38.74" lengthAdjust="spacingAndGlyphs">U</text>
<text class="t" x="811.40" y="695.3" font-size="63.2" textLength="34.74" lengthAdjust="spacingAndGlyphs">P</text>
<text class="t" x="266.80" y="1377.8" font-size="63.2" textLength="34.78" lengthAdjust="spacingAndGlyphs">P</text>
<text class="t" x="305.20" y="1377.8" font-size="63.2" textLength="29.15" lengthAdjust="spacingAndGlyphs">L</text>
<text class="t" x="336.40" y="1377.8" font-size="63.2" textLength="39.57" lengthAdjust="spacingAndGlyphs">U</text>
<text class="t" x="380.00" y="1377.8" font-size="63.2" textLength="38.64" lengthAdjust="spacingAndGlyphs">G</text>
<text class="t" x="437.80" y="1377.8" font-size="63.2" textLength="15.27" lengthAdjust="spacingAndGlyphs">I</text>
<text class="t" x="458.00" y="1377.8" font-size="63.2" textLength="39.32" lengthAdjust="spacingAndGlyphs">N</text>
<text class="t" x="246.20" y="1450.0" font-size="63.2" textLength="41.11" lengthAdjust="spacingAndGlyphs">&amp;</text>
<text class="t" x="293.80" y="1450.0" font-size="63.2" textLength="14.82" lengthAdjust="spacingAndGlyphs">I</text>
<text class="t" x="310.20" y="1450.0" font-size="63.2" textLength="43.77" lengthAdjust="spacingAndGlyphs">N</text>
<text class="t" x="359.60" y="1450.0" font-size="63.2" textLength="24.35" lengthAdjust="spacingAndGlyphs">F</text>
<text class="t" x="390.20" y="1450.0" font-size="63.2" textLength="29.54" lengthAdjust="spacingAndGlyphs">L</text>
<text class="t" x="420.60" y="1450.0" font-size="63.2" textLength="35.16" lengthAdjust="spacingAndGlyphs">A</text>
<text class="t" x="453.80" y="1450.0" font-size="63.2" textLength="33.28" lengthAdjust="spacingAndGlyphs">T</text>
<text class="t" x="490.60" y="1450.0" font-size="63.2" textLength="28.93" lengthAdjust="spacingAndGlyphs">E</text>
<text class="t" x="930.20" y="1381.0" font-size="63.2" textLength="34.77" lengthAdjust="spacingAndGlyphs">S</text>
<text class="t" x="969.20" y="1381.0" font-size="63.2" textLength="29.54" lengthAdjust="spacingAndGlyphs">E</text>
<text class="t" x="1002.20" y="1381.0" font-size="63.2" textLength="34.25" lengthAdjust="spacingAndGlyphs">C</text>
<text class="t" x="1039.40" y="1381.0" font-size="63.2" textLength="38.90" lengthAdjust="spacingAndGlyphs">U</text>
<text class="t" x="1083.20" y="1381.0" font-size="63.2" textLength="36.09" lengthAdjust="spacingAndGlyphs">R</text>
<text class="t" x="1123.20" y="1381.0" font-size="63.2" textLength="29.54" lengthAdjust="spacingAndGlyphs">E</text>
<text class="t" x="1172.20" y="1381.0" font-size="63.2" textLength="32.22" lengthAdjust="spacingAndGlyphs">T</text>
<text class="t" x="1206.60" y="1381.0" font-size="63.2" textLength="15.68" lengthAdjust="spacingAndGlyphs">I</text>
<text class="t" x="1228.40" y="1381.0" font-size="63.2" textLength="28.31" lengthAdjust="spacingAndGlyphs">E</text>
<text class="t" x="1259.40" y="1381.0" font-size="63.2" textLength="34.77" lengthAdjust="spacingAndGlyphs">S</text>
<text class="t" x="987.00" y="1452.8" font-size="63.2" textLength="39.58" lengthAdjust="spacingAndGlyphs">&amp;</text>
<text class="t" x="1032.40" y="1452.8" font-size="63.2" textLength="34.77" lengthAdjust="spacingAndGlyphs">S</text>
<text class="t" x="1067.60" y="1452.8" font-size="63.2" textLength="32.76" lengthAdjust="spacingAndGlyphs">T</text>
<text class="t" x="1097.40" y="1452.8" font-size="63.2" textLength="35.33" lengthAdjust="spacingAndGlyphs">A</text>
<text class="t" x="1138.40" y="1452.8" font-size="63.2" textLength="33.64" lengthAdjust="spacingAndGlyphs">K</text>
<text class="t" x="1178.60" y="1452.8" font-size="63.2" textLength="25.92" lengthAdjust="spacingAndGlyphs">E</text>
<text class="t" x="1207.00" y="1452.8" font-size="63.2" textLength="34.77" lengthAdjust="spacingAndGlyphs">S</text>

</svg>
</body></html>
